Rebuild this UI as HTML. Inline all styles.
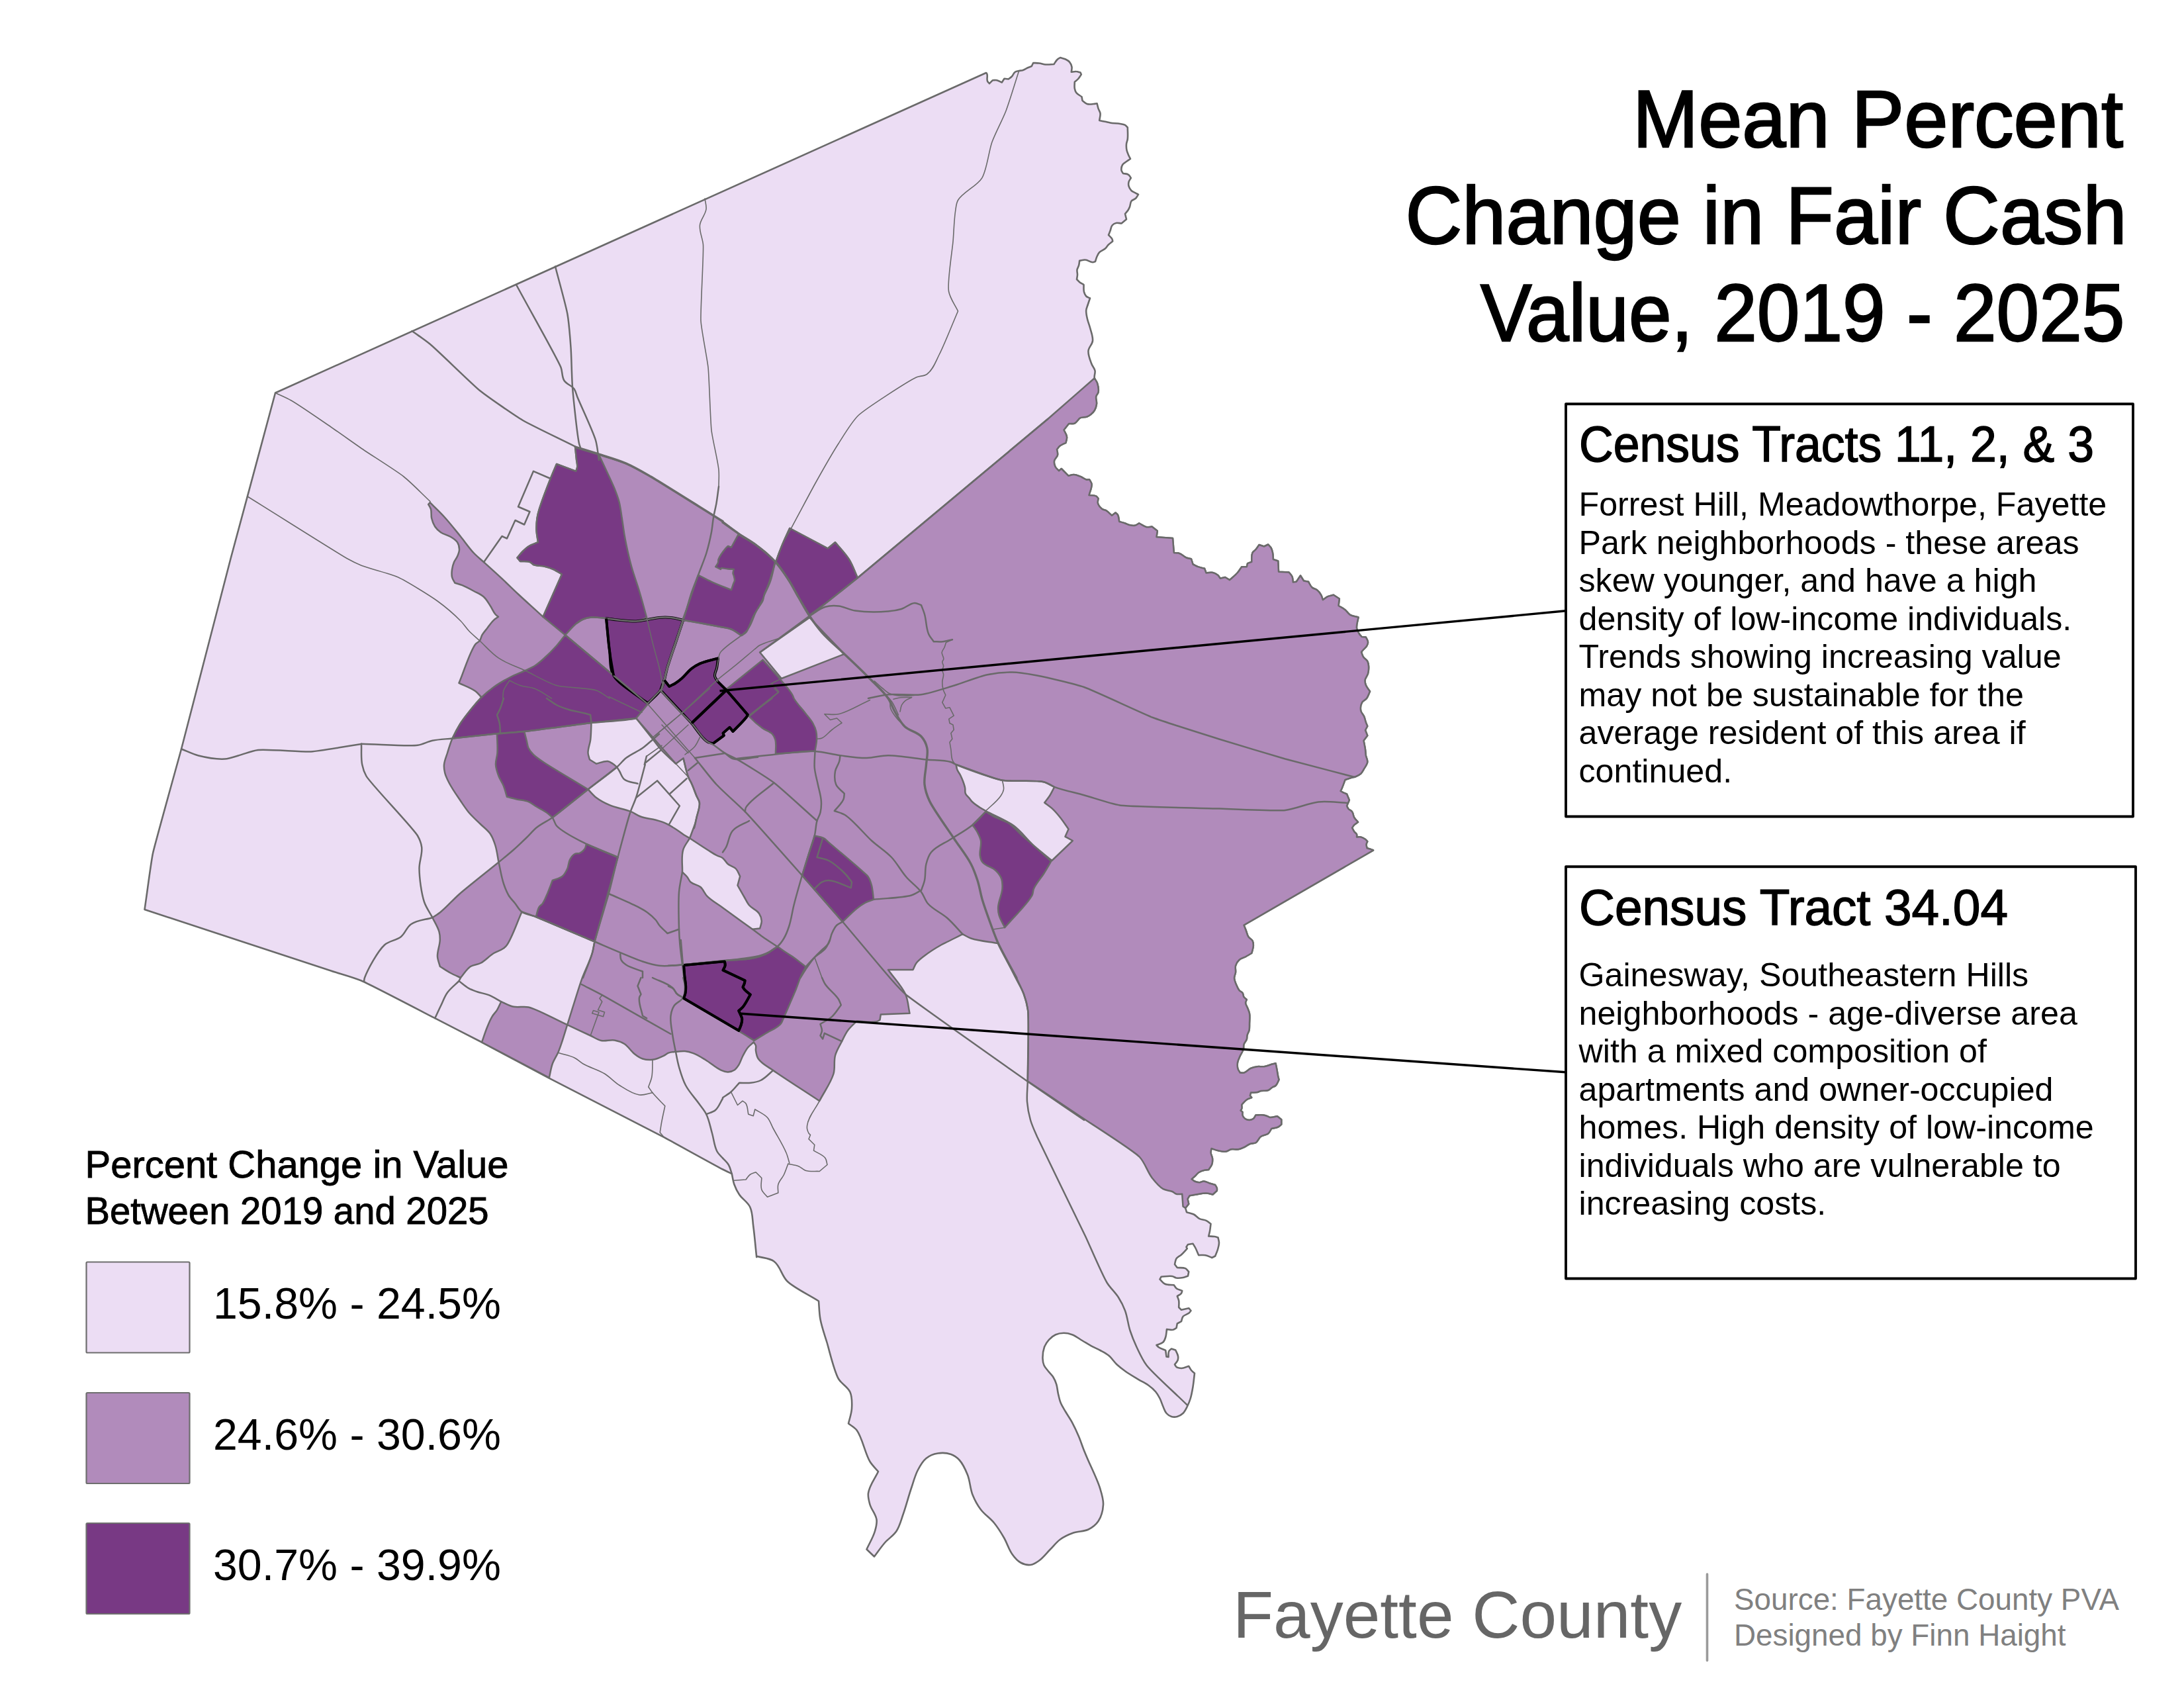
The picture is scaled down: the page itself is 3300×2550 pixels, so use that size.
<!DOCTYPE html>
<html><head><meta charset="utf-8"><title>Fayette County Map</title>
<style>
html,body{margin:0;padding:0;background:#fff;}
body{width:3300px;height:2550px;overflow:hidden;}
svg{display:block;}
text{font-family:"Liberation Sans",sans-serif;}
.din{font-family:"Liberation Sans",sans-serif;stroke:#000;stroke-width:2.4px;stroke-linejoin:miter;stroke-miterlimit:3;}
</style></head><body>
<svg width="3300" height="2550" viewBox="0 0 3300 2550">
<rect x="0" y="0" width="3300" height="2550" fill="#fff"/>
<g id="map">
<path d="M416,593.5 L1490,110 C1490.4,110.4 1491.0,110.7 1491.2,111.2 C1492.8,114.6 1490.6,119.0 1492,122.5 C1492.6,124.0 1494.0,125.0 1495,126.2 L1500,121.2 C1502.1,121.2 1504.2,120.8 1506.2,121.2 C1508.9,121.8 1511.3,123.4 1513.8,124.5 L1517.5,118.8 L1523.8,119.5 C1525.5,118.2 1527.3,117.0 1528.8,115.5 C1530.7,113.5 1531.5,110.4 1533.8,108.8 C1535.4,107.6 1537.6,107.4 1539.5,107 C1541.3,106.6 1543.2,106.7 1545,106.2 C1547.7,105.4 1550.0,103.6 1552.5,102.5 C1554.6,101.6 1556.7,100.8 1558.8,100 L1561.2,95 C1564.1,95.2 1567.1,95.1 1570,95.5 C1573.4,95.9 1576.6,97.2 1580,97.5 C1584.2,97.8 1588.3,97.2 1592.5,97 C1594.2,94.7 1595.4,92.0 1597.5,90 C1598.8,88.7 1600.5,88.0 1602,87 C1604.7,87.8 1607.5,88.3 1610,89.5 C1612.3,90.6 1614.6,91.9 1616.2,93.8 C1617.9,95.9 1619.1,98.5 1619.5,101.2 C1619.9,103.7 1619.0,106.3 1618.8,108.8 C1621.3,108.5 1623.7,107.8 1626.2,108 C1628.4,108.1 1630.4,109.0 1632.5,109.5 L1633.8,112.5 C1632.1,114.8 1630.7,117.4 1628.8,119.5 C1627.3,121.1 1625.5,122.4 1623.8,123.8 C1623.8,127.1 1623.2,130.5 1623.8,133.8 C1624.2,136.0 1624.9,138.2 1626.2,140 C1628.3,142.8 1631.7,144.1 1634.5,146.2 L1635.5,152 C1637.8,153.7 1639.8,156.1 1642.5,157 C1645.7,158.0 1649.2,157.3 1652.5,157 C1654.2,156.9 1655.8,156.5 1657.5,156.2 C1658.2,158.7 1658.7,161.3 1659.5,163.8 C1660.3,166.3 1662.1,168.6 1662.5,171.2 C1663.0,174.8 1661.6,178.4 1661.2,182 C1664.1,182.6 1667.1,183.2 1670,183.8 C1672.5,184.3 1675.0,185.1 1677.5,185.5 C1682.5,186.3 1687.5,186.2 1692.5,187 C1695.0,187.4 1697.7,187.6 1700,188.8 C1701.5,189.7 1702.5,191.3 1703.8,192.5 C1703.8,198.3 1704.5,204.2 1703.8,210 C1703.5,212.6 1702.2,214.9 1702,217.5 C1701.7,220.7 1701.9,223.9 1702.5,227 C1703.1,229.8 1704.4,232.4 1705.5,235 C1706.2,236.7 1707.2,238.3 1708,240 C1706.2,241.3 1704.3,242.5 1702.5,243.8 C1700.3,245.4 1697.6,246.5 1696.2,248.8 C1694.7,251.3 1694.0,254.6 1694.5,257.5 C1694.8,259.2 1696.2,260.5 1697,262 C1699.7,262.6 1702.7,262.3 1705,263.8 C1706.8,264.9 1707.5,267.1 1708.8,268.8 C1707.7,270.9 1706.1,272.7 1705.5,275 C1705.0,277.0 1705.0,279.2 1705.5,281.2 C1706.2,283.7 1707.6,286.1 1709.5,288 C1711.0,289.5 1713.1,290.2 1715,291.2 C1716.6,292.1 1718.3,292.9 1720,293.8 C1718.7,295.7 1717.8,297.9 1716.2,299.5 C1714.3,301.4 1711.1,301.7 1709.5,303.8 C1707.7,306.2 1708.1,309.7 1707,312.5 C1706.3,314.2 1705.5,315.9 1704.5,317.5 C1703.2,319.5 1701.5,321.2 1700,323 L1702,331.2 L1694.5,337.5 C1691.7,337.3 1688.9,336.3 1686.2,337 C1684.0,337.5 1681.9,338.8 1680.5,340.5 C1678.6,342.8 1678.6,346.1 1677.5,348.8 C1676.7,350.9 1675.8,352.9 1675,355 C1676.8,357.1 1679.3,358.7 1680.5,361.2 C1681.0,362.2 1681.0,363.4 1681.2,364.5 C1679.1,366.2 1676.9,367.6 1675,369.5 C1673.1,371.3 1671.9,373.8 1670,375.5 C1667.4,377.8 1663.6,378.7 1661.2,381.2 C1659.5,383.0 1658.5,385.3 1657.5,387.5 C1656.4,389.9 1655.8,392.5 1655,395 C1653.7,395.4 1652.5,396.2 1651.2,396.2 C1647.3,396.2 1643.9,392.8 1640,392.5 C1637.0,392.2 1634.1,393.4 1631.2,393.8 C1630.8,396.3 1630.7,398.8 1630,401.2 C1629.4,403.4 1627.9,405.3 1627.5,407.5 C1627.1,410.0 1628.1,412.5 1628,415 C1627.9,417.4 1627.3,419.7 1627,422 C1628.4,423.4 1629.6,425.0 1631.2,426.2 C1633.1,427.7 1635.4,428.7 1637.5,430 C1637.7,433.7 1637.0,437.6 1638,441.2 C1638.6,443.5 1639.5,445.8 1641.2,447.5 C1642.7,449.0 1645.1,449.5 1647,450.5 C1645.9,453.7 1644.8,456.8 1643.8,460 C1642.9,462.9 1641.4,465.8 1641.2,468.8 C1640.9,473.2 1642.0,477.7 1643,482 C1644.0,486.4 1645.9,490.6 1647,495 C1648.7,501.6 1651.7,508.2 1651,515 C1650.4,520.4 1644.9,524.6 1644.5,530 C1643.9,536.8 1647.1,543.6 1649.5,550 C1650.8,553.5 1653.8,556.3 1654.5,560 C1655.2,563.7 1653.0,567.6 1653.8,571.2 C1654.4,574.0 1657.1,576.0 1658,578.8 C1659.4,583.2 1660.4,588.0 1659.5,592.5 C1659.1,594.8 1656.7,596.5 1656.2,598.8 C1655.4,602.5 1657.4,606.3 1657,610 C1656.6,613.5 1655.6,617.0 1653.8,620 C1652.4,622.4 1650.2,624.4 1648,626.2 C1646.3,627.5 1644.5,628.8 1642.5,629.5 C1639.3,630.7 1635.5,629.7 1632.5,631.2 C1628.9,633.0 1627.5,637.9 1623.8,639.5 C1621.1,640.7 1617.9,639.8 1615,640 L1607.5,649.5 C1609.0,653.0 1611.6,656.2 1612,660 C1612.4,663.0 1611.0,665.9 1610.5,668.8 C1607.4,670.5 1603.9,671.6 1601.2,673.8 C1599.5,675.2 1598.4,677.1 1597,678.8 C1597.3,681.7 1598.6,684.6 1598,687.5 C1597.3,690.8 1593.6,692.9 1593,696.2 C1592.5,699.1 1593.2,702.3 1594.5,705 C1595.7,707.5 1598.2,709.1 1600,711.2 L1603.8,708 L1614.5,718.8 C1617.2,718.2 1619.8,716.9 1622.5,717 C1626.4,717.2 1630.2,719.0 1633.8,720.5 C1636.4,721.6 1638.5,723.8 1641.2,724.5 C1642.8,724.9 1644.5,724.5 1646.2,724.5 C1647.3,726.7 1649.2,728.7 1649.5,731.2 C1650.1,736.9 1646.8,742.4 1645.5,748 C1649.1,748.5 1653.0,747.8 1656.2,749.5 C1657.6,750.2 1658.4,751.8 1659.5,753 C1659.3,755.3 1658.2,757.7 1658.8,760 C1659.7,763.5 1662.2,766.6 1665,768.8 C1666.7,770.2 1669.3,770.1 1671.2,771.2 C1674.5,773.2 1677.1,776.3 1680,778.8 L1685.5,774.5 C1686.6,775.5 1688.0,776.2 1688.8,777.5 C1690.6,780.6 1690.4,784.5 1691.2,788 C1694.1,788.8 1697.1,789.5 1700,790.5 C1702.1,791.2 1704.0,792.5 1706.2,793 C1709.1,793.7 1712.1,794.4 1715,793.8 C1717.3,793.3 1719.1,791.6 1721.2,790.5 C1725.0,792.4 1728.4,795.4 1732.5,796.2 C1735.1,796.7 1737.8,795.7 1740.5,795.5 L1748.8,802 L1747.5,811.2 L1772,813 L1773.8,835 C1776.7,835.4 1779.7,835.2 1782.5,836.2 C1786.2,837.5 1788.9,840.9 1792.5,842.5 C1794.9,843.5 1797.5,843.8 1800,844.5 L1802.5,852.5 C1805.0,853.7 1807.4,855.2 1810,856.2 C1813.2,857.4 1816.7,857.9 1820,858.8 L1822.5,865.5 C1825.8,865.3 1829.2,864.3 1832.5,865 C1835.2,865.6 1837.8,867.0 1840,868.8 C1841.6,870.1 1842.5,872.1 1843.8,873.8 L1851.2,872 L1858,876.2 C1862.0,872.5 1866.4,869.1 1870,865 C1872.4,862.3 1874.1,859.1 1876.2,856.2 L1883.8,856.2 L1885,851.2 L1891.2,848.8 C1891.6,844.2 1890.5,839.2 1892.5,835 C1893.5,832.9 1896.0,831.8 1897.5,830 C1899.4,827.8 1900.8,825.3 1902.5,823 L1910,825.5 L1916.2,822.5 C1917.6,824.2 1919.4,825.6 1920.5,827.5 C1921.8,829.8 1922.5,832.4 1923,835 C1923.7,838.3 1923.5,841.7 1923.8,845 L1931.2,847.5 L1932,863.8 L1947.5,864.5 C1949.2,866.7 1951.4,868.6 1952.5,871.2 C1953.6,873.8 1953.4,876.7 1953.8,879.5 L1958.8,878.8 L1965,869.5 L1970,877.5 L1977,878.8 C1978.8,881.7 1979.9,885.2 1982.5,887.5 C1984.6,889.4 1987.8,889.5 1990,891.2 C1992.6,893.2 1994.6,895.9 1996.2,898.8 C1997.5,901.1 1997.9,903.7 1998.8,906.2 C2001.3,904.5 2003.5,902.4 2006.2,901.2 C2009.0,899.9 2012.1,899.6 2015,898.8 L2023.8,904.5 L2022.5,915 C2025.8,917.1 2029.4,918.8 2032.5,921.2 C2035.3,923.4 2036.9,927.0 2040,928.8 C2043.7,931.0 2048.3,931.3 2052.5,932.5 C2051.7,937.9 2049.3,943.3 2050,948.8 C2050.4,951.9 2052.1,954.8 2053.8,957.5 C2054.8,959.2 2056.3,960.5 2057.5,962 L2063.8,962.5 C2064.9,965.0 2066.9,967.3 2067,970 C2067.1,972.2 2066.1,974.3 2065,976.2 C2063.6,978.5 2061.3,980.0 2059.5,982 C2058.6,983.0 2057.8,984.0 2057,985 C2058.0,987.5 2058.5,990.2 2060,992.5 C2061.6,995.0 2064.8,996.2 2066.2,998.8 C2067.4,1001.0 2067.8,1003.7 2068,1006.2 C2068.3,1010.0 2068.0,1013.8 2067,1017.5 C2066.1,1021.0 2063.0,1023.9 2062.5,1027.5 C2062.2,1030.0 2062.9,1032.6 2063.8,1035 C2065.2,1038.5 2067.9,1041.3 2070,1044.5 C2068.3,1048.0 2067.3,1051.9 2065,1055 C2063.1,1057.5 2059.5,1058.5 2058,1061.2 C2056.0,1064.9 2055.4,1069.6 2056.2,1073.8 C2056.8,1077.1 2059.9,1079.4 2061.2,1082.5 C2062.4,1085.3 2062.8,1088.3 2063.8,1091.2 C2064.5,1093.2 2065.4,1095.1 2066.2,1097 L2063,1103 L2066.2,1111.2 L2060.5,1118.8 C2061.3,1123.4 2062.4,1127.9 2063,1132.5 C2063.4,1135.4 2063.3,1138.3 2063.8,1141.2 C2064.4,1144.6 2066.6,1147.8 2066.2,1151.2 C2065.8,1154.9 2063.1,1158.0 2061.2,1161.2 C2059.7,1163.8 2058.4,1166.7 2056.2,1168.8 C2054.1,1170.7 2051.4,1171.9 2048.8,1173 C2046.0,1174.2 2042.9,1174.6 2040,1175.5 C2037.5,1176.3 2035.0,1177.2 2032.5,1178 C2030.8,1182.4 2029.4,1186.9 2027.5,1191.2 C2026.9,1192.5 2026.2,1193.7 2025.5,1195 C2027.0,1195.8 2028.5,1196.8 2030,1197.5 C2031.6,1198.3 2033.3,1198.8 2035,1199.5 L2038.8,1208.8 L2035,1217.5 C2035.8,1219.0 2036.4,1220.7 2037.5,1222 C2039.0,1223.7 2041.6,1224.3 2043,1226.2 C2044.8,1228.7 2044.6,1232.3 2046.2,1235 C2047.7,1237.6 2050.1,1239.7 2052,1242 C2050.1,1243.4 2047.9,1244.5 2046.2,1246.2 C2044.9,1247.5 2044.1,1249.1 2043,1250.5 C2044.1,1252.4 2044.9,1254.4 2046.2,1256.2 C2047.3,1257.8 2049.3,1258.7 2050,1260.5 C2050.5,1261.7 2050.0,1263.2 2050,1264.5 C2052.1,1264.5 2054.2,1264.0 2056.2,1264.5 C2058.5,1265.0 2060.6,1266.2 2062.5,1267.5 C2063.9,1268.5 2065.0,1270.0 2066.2,1271.2 C2065.6,1272.6 2064.7,1274.0 2064.5,1275.5 C2064.3,1277.4 2065.2,1279.3 2065.5,1281.2 C2067.0,1281.6 2068.5,1282.0 2070,1282.5 C2071.7,1283.1 2073.3,1283.8 2075,1284.5 L1879.5,1397.5 C1880.5,1400.0 1881.5,1402.5 1882.5,1405 C1883.8,1408.3 1884.3,1412.0 1886.2,1415 C1887.8,1417.5 1891.1,1418.6 1892.5,1421.2 C1893.7,1423.5 1893.9,1426.2 1893.8,1428.8 C1893.7,1432.6 1892.1,1436.3 1891.2,1440 C1888.3,1441.7 1885.4,1443.4 1882.5,1445 C1879.2,1446.8 1875.3,1447.5 1872.5,1450 C1869.9,1452.3 1868.0,1455.5 1867,1458.8 C1866.1,1462.0 1867.4,1465.5 1867,1468.8 C1866.7,1471.8 1864.9,1474.5 1865,1477.5 C1865.1,1481.0 1866.7,1484.3 1868,1487.5 C1869.2,1490.5 1870.4,1493.7 1872.5,1496.2 C1873.8,1497.8 1876.3,1498.3 1877.5,1500 C1878.8,1501.8 1878.3,1504.4 1879.5,1506.2 C1880.5,1507.8 1882.4,1508.7 1883.8,1510 C1883.2,1511.7 1882.0,1513.2 1882,1515 C1882.0,1517.7 1884.1,1520.0 1885,1522.5 C1886.1,1525.4 1887.5,1528.2 1888,1531.2 C1888.8,1536.1 1888.1,1541.2 1888,1546.2 C1887.9,1549.5 1888.2,1552.9 1887.5,1556.2 C1886.9,1558.9 1885.2,1561.2 1884.5,1563.8 C1884.0,1565.8 1884.4,1568.0 1883.8,1570 C1882.9,1572.7 1880.4,1574.8 1879.5,1577.5 C1878.7,1579.9 1879.5,1582.6 1878.8,1585 C1877.8,1588.6 1875.3,1591.6 1873.8,1595 C1872.4,1598.3 1870.6,1601.5 1870,1605 C1869.5,1608.3 1869.5,1611.8 1870.5,1615 C1871.1,1617.0 1872.7,1618.7 1873.8,1620.5 C1875.9,1620.5 1878.0,1621.1 1880,1620.5 C1883.8,1619.3 1886.3,1615.4 1890,1613.8 C1893.1,1612.4 1896.6,1611.6 1900,1611.2 C1903.3,1610.8 1906.7,1611.7 1910,1611.2 C1914.3,1610.6 1918.3,1608.7 1922.5,1607.5 C1924.2,1607.0 1925.8,1606.6 1927.5,1606.2 C1928.2,1609.5 1928.9,1612.9 1929.5,1616.2 C1930.1,1619.5 1930.5,1622.9 1931.2,1626.2 C1931.6,1627.9 1932.1,1629.5 1932.5,1631.2 C1930.8,1634.1 1929.9,1637.7 1927.5,1640 C1926.1,1641.3 1924.1,1641.5 1922.5,1642.5 C1920.3,1643.8 1918.6,1646.1 1916.2,1647 C1912.7,1648.3 1908.6,1647.1 1905,1648 C1903.3,1648.4 1901.8,1649.6 1900,1650 C1896.7,1650.7 1893.3,1650.3 1890,1650.5 L1888.8,1655 L1891.2,1658 C1888.7,1659.1 1886.0,1659.7 1883.8,1661.2 C1880.8,1663.2 1878.7,1666.3 1876.2,1668.8 C1876.2,1670.9 1876.8,1673.0 1876.2,1675 C1875.9,1676.0 1875.1,1676.7 1874.5,1677.5 L1877.5,1680 C1877.5,1681.7 1877.0,1683.4 1877.5,1685 C1878.1,1687.0 1879.5,1688.8 1881.2,1690 C1883.0,1691.3 1885.3,1692.0 1887.5,1692 C1889.7,1692.0 1892.0,1691.3 1893.8,1690 C1895.6,1688.7 1896.3,1686.3 1897.5,1684.5 C1901.3,1684.5 1905.1,1684.0 1908.8,1684.5 C1910.9,1684.8 1913.0,1685.5 1915,1686.2 C1916.3,1686.7 1917.4,1687.8 1918.8,1688 C1922.5,1688.5 1926.3,1686.8 1930,1686.2 L1936.2,1691.2 L1936.2,1698.8 C1934.5,1700.0 1933.1,1701.6 1931.2,1702.5 C1928.1,1704.0 1924.5,1704.2 1921.2,1705 C1919.5,1707.5 1918.5,1710.6 1916.2,1712.5 C1913.1,1715.0 1908.2,1714.6 1905,1717 C1901.8,1719.3 1900.9,1724.1 1897.5,1726.2 C1895.0,1727.7 1891.6,1727.0 1888.8,1728 C1885.6,1729.2 1883.1,1731.6 1880,1733 C1877.2,1734.3 1874.3,1735.7 1871.2,1736.2 C1867.5,1736.8 1863.7,1735.4 1860,1736.2 C1857.3,1736.8 1855.2,1739.1 1852.5,1739.5 C1848.3,1740.1 1844.1,1738.9 1840,1738 C1836.8,1737.3 1833.7,1736.0 1830.5,1735 C1830.2,1737.1 1829.4,1739.1 1829.5,1741.2 C1829.7,1744.2 1831.7,1747.0 1832,1750 C1832.3,1752.9 1832.1,1756.0 1831.2,1758.8 C1830.2,1761.8 1827.9,1764.3 1826.2,1767 C1823.7,1767.3 1821.2,1767.3 1818.8,1768 C1816.1,1768.7 1813.5,1769.7 1811.2,1771.2 C1809.2,1772.5 1807.9,1774.6 1806.2,1776.2 C1804.4,1777.9 1802.4,1779.5 1800.5,1781.2 C1802.0,1782.3 1803.3,1783.7 1805,1784.5 C1807.3,1785.6 1809.9,1786.3 1812.5,1786.2 C1814.7,1786.2 1816.6,1784.4 1818.8,1784.5 C1821.9,1784.6 1824.6,1786.6 1827.5,1787.5 C1830.4,1788.4 1833.3,1789.2 1836.2,1790 C1837.1,1791.7 1838.4,1793.2 1838.8,1795 C1839.1,1796.2 1838.8,1797.5 1838.8,1798.8 L1832.5,1804.5 C1829.2,1803.8 1825.9,1802.6 1822.5,1802.5 C1817.5,1802.3 1812.5,1803.7 1807.5,1804.5 C1804.2,1805.0 1800.8,1805.6 1797.5,1806.2 L1794.5,1811.2 L1796.2,1818.8 L1791.2,1825 L1793,1831.2 C1796.6,1832.3 1800.5,1832.8 1803.8,1834.5 C1807.1,1836.2 1809.2,1839.6 1812.5,1841.2 C1815.6,1842.7 1819.4,1842.3 1822.5,1843.8 C1825.1,1845.0 1827.2,1847.1 1829.5,1848.8 C1829.0,1852.5 1828.7,1856.3 1828,1860 C1827.5,1862.5 1826.8,1865.0 1826.2,1867.5 C1829.1,1867.7 1832.1,1867.5 1835,1868 C1836.9,1868.3 1838.7,1869.0 1840.5,1869.5 C1841.0,1872.2 1842.0,1874.8 1842,1877.5 C1842.0,1880.9 1840.9,1884.2 1840,1887.5 C1839.0,1890.9 1837.5,1894.2 1836.2,1897.5 L1831.2,1900 C1827.9,1898.7 1824.7,1896.8 1821.2,1896.2 C1817.9,1895.6 1814.5,1896.2 1811.2,1896.2 C1809.5,1892.5 1808.1,1888.6 1806.2,1885 C1805.1,1882.9 1803.7,1880.9 1802.5,1878.8 L1795,1880 L1792.5,1883.8 L1793.8,1886.2 C1790.9,1889.3 1788.2,1892.6 1785,1895.5 C1782.7,1897.6 1779.3,1898.6 1777.5,1901.2 C1775.8,1903.7 1775.8,1907.1 1775,1910 L1778.8,1915 C1782.9,1915.4 1787.4,1914.4 1791.2,1916.2 C1793.3,1917.2 1794.5,1919.5 1796.2,1921.2 L1795,1927.5 C1792.5,1928.3 1790.1,1929.5 1787.5,1930 C1784.2,1930.6 1780.8,1931.0 1777.5,1930.5 C1775.3,1930.1 1773.4,1928.4 1771.2,1928 C1765.7,1927.1 1760.1,1928.5 1754.5,1928.8 L1752.5,1932.5 C1755.0,1934.8 1756.9,1938.1 1760,1939.5 C1764.2,1941.5 1769.2,1940.6 1773.8,1941.2 C1775.0,1942.9 1775.9,1944.9 1777.5,1946.2 C1780.0,1948.2 1783.3,1948.7 1786.2,1950 C1785.8,1951.3 1785.8,1952.7 1785,1953.8 C1783.5,1955.8 1780.9,1956.6 1778.8,1958 C1779.6,1960.3 1780.8,1962.6 1781.2,1965 C1781.7,1968.3 1781.2,1971.7 1781.2,1975 L1785,1978.8 L1796.2,1976.2 L1799.5,1980 C1798.4,1981.3 1797.5,1982.7 1796.2,1983.8 C1793.6,1985.9 1789.6,1986.2 1787.5,1988.8 C1785.8,1990.8 1785.8,1993.7 1785,1996.2 L1778.8,1999.5 L1777.5,2006.2 C1775.8,2007.1 1774.3,2008.4 1772.5,2008.8 C1769.4,2009.4 1766.2,2008.3 1763,2008 C1762.4,2012.0 1762.4,2016.1 1761.2,2020 C1760.4,2022.7 1759.5,2025.6 1757.5,2027.5 C1754.9,2030.0 1750.8,2030.5 1747.5,2032 C1748.7,2033.2 1749.8,2034.6 1751.2,2035.5 C1754.2,2037.5 1757.9,2038.5 1761.2,2040 L1762.5,2049.5 L1765.5,2050 C1765.7,2047.1 1764.9,2043.9 1766.2,2041.2 C1767.0,2039.6 1768.7,2038.7 1770,2037.5 L1776.2,2039.5 C1777.5,2042.6 1779.5,2045.5 1780,2048.8 C1780.3,2050.8 1780.2,2053.1 1779.5,2055 C1778.6,2057.4 1776.5,2059.1 1775,2061.2 C1775.8,2062.5 1776.3,2064.1 1777.5,2065 C1779.6,2066.5 1782.4,2067.0 1785,2067 C1788.9,2067.0 1792.5,2064.9 1796.2,2063.8 C1797.5,2065.9 1798.4,2068.1 1800,2070 C1801.4,2071.7 1803.3,2073.0 1805,2074.5 C1804.2,2081.3 1803.6,2088.2 1802.5,2095 C1801.5,2100.9 1800.5,2106.8 1798.8,2112.5 C1797.5,2116.8 1795.8,2121.0 1793.8,2125 C1792.0,2128.5 1790.3,2132.3 1787.5,2135 C1785.1,2137.3 1782.0,2139.1 1778.8,2140 C1776.0,2140.8 1772.8,2140.9 1770,2140 C1767.1,2139.1 1764.5,2137.3 1762.5,2135 C1760.0,2132.2 1759.0,2128.4 1757.5,2125 C1755.7,2120.9 1754.5,2116.5 1752.5,2112.5 C1750.7,2109.0 1748.7,2105.5 1746.2,2102.5 C1743.0,2098.7 1739.1,2095.4 1735,2092.5 C1730.3,2089.1 1724.9,2086.8 1720,2083.8 C1713.3,2079.7 1706.4,2075.8 1700,2071.2 C1695.7,2068.1 1691.4,2064.8 1687.5,2061.2 C1683.0,2057.0 1679.8,2051.4 1675,2047.5 C1671.2,2044.4 1666.8,2042.3 1662.5,2040 C1658.4,2037.8 1654.1,2036.0 1650,2033.8 C1644.9,2031.0 1640.0,2027.9 1635,2025 C1630.0,2022.1 1625.4,2018.2 1620,2016.2 C1616.0,2014.7 1611.7,2013.8 1607.5,2013.8 C1603.3,2013.8 1598.9,2014.5 1595,2016.2 C1591.2,2017.9 1587.8,2020.7 1585,2023.8 C1582.0,2027.1 1579.5,2030.9 1578,2035 C1576.0,2040.5 1575.3,2046.6 1575.5,2052.5 C1575.6,2055.9 1576.1,2059.4 1577.5,2062.5 C1578.9,2065.8 1581.6,2068.4 1583.8,2071.2 C1586.2,2074.2 1589.2,2076.8 1591.2,2080 C1593.4,2083.5 1595.0,2087.3 1596.2,2091.2 C1597.6,2095.7 1597.8,2100.4 1598.8,2105 C1599.9,2109.6 1600.7,2114.4 1602.5,2118.8 C1604.4,2123.6 1607.4,2128.0 1610,2132.5 C1613.2,2138.0 1617.0,2143.2 1620,2148.8 C1623.7,2155.7 1627.0,2162.8 1630,2170 C1632.8,2176.6 1634.9,2183.4 1637.5,2190 C1639.1,2194.0 1640.8,2198.0 1642.5,2202 C1647.9,2214.9 1657.9,2234.6 1662,2248 C1664.5,2256.1 1667.4,2264.5 1667,2273 C1666.6,2281.7 1664.3,2290.7 1659.5,2298 C1655.9,2303.4 1650.3,2307.6 1644.5,2310.5 C1637.6,2313.9 1629.2,2312.9 1622,2315.5 C1615.0,2318.0 1608.0,2321.1 1602,2325.5 C1596.3,2329.6 1592.0,2335.5 1587,2340.5 C1581.2,2346.3 1576.2,2353.2 1569.5,2358 C1565.7,2360.7 1561.6,2363.5 1557,2364 C1551.9,2364.6 1546.5,2363.0 1542,2360.5 C1536.8,2357.6 1532.9,2352.8 1529.5,2348 C1524.1,2340.4 1521.7,2331.1 1517,2323 C1512.5,2315.2 1507.7,2307.5 1502,2300.5 C1496.0,2293.2 1487.7,2288.0 1482,2280.5 C1476.8,2273.7 1472.7,2266.0 1469.5,2258 C1465.7,2248.4 1465.8,2237.6 1462,2228 C1458.8,2220.0 1455.3,2211.8 1449.5,2205.5 C1446.1,2201.8 1441.8,2198.7 1437,2197 C1430.7,2194.8 1423.6,2194.4 1417,2195.5 C1410.7,2196.5 1404.4,2199.0 1399.5,2203 C1393.9,2207.5 1390.3,2214.2 1387,2220.5 C1382.5,2229.1 1380.1,2238.8 1377,2248 C1372.5,2261.2 1369.2,2274.8 1364.5,2288 C1361.5,2296.5 1359.4,2305.5 1354.5,2313 C1350.0,2319.9 1342.4,2324.3 1337,2330.5 C1331.2,2337.1 1326.3,2344.5 1321,2351.5 L1309.5,2340.5 C1313.7,2331.3 1319.2,2322.7 1322,2313 C1323.7,2307.3 1325.3,2301.3 1324.5,2295.5 C1323.4,2287.4 1316.8,2280.9 1314.5,2273 C1312.9,2267.3 1311.1,2261.3 1312,2255.5 C1313.7,2243.7 1322.0,2233.8 1327,2223 C1322.8,2218.0 1317.9,2213.6 1314.5,2208 C1307.2,2196.0 1302.9,2171.7 1294.5,2160.5 C1291.3,2156.2 1286.2,2153.8 1282,2150.5 C1283.7,2143.0 1286.5,2135.7 1287,2128 C1287.5,2119.6 1287.8,2110.7 1284.5,2103 C1281.0,2094.9 1271.4,2090.7 1267,2083 C1260.1,2070.8 1253.5,2041.4 1249.5,2028 C1246.0,2016.4 1241.7,2004.9 1239.5,1993 C1237.8,1984.0 1237.8,1974.7 1237,1965.5 C1221.2,1955.5 1199.5,1945.3 1189.5,1935.5 C1180.9,1927.1 1179.2,1912.6 1169.5,1905.5 C1162.5,1900.3 1152.8,1900.5 1144.5,1898 L1143.2,1899 C1141.5,1883.3 1140.1,1865.9 1138.2,1852 C1136.9,1842.4 1137.4,1832.0 1133.2,1823.2 C1129.7,1815.7 1121.6,1811.4 1117,1804.5 C1113.9,1799.9 1111.4,1794.8 1109.5,1789.5 C1107.6,1784.3 1107.0,1778.6 1105.8,1773.2 C1101.2,1771.0 1096.5,1768.8 1092,1766.5 C1079.6,1760.1 1015.9,1724.8 1003.5,1718.2 C991.1,1711.6 840.9,1634.7 828.5,1628.2 C816.1,1621.7 740.4,1581.0 728,1574.5 C715.6,1568.0 669.7,1544.6 657.2,1538.2 C644.7,1531.8 558.9,1486.9 546,1481.5 C533.1,1476.1 513.3,1470.9 500,1466.5 C486.7,1462.1 312.3,1404.8 218.5,1374 C222.7,1345.7 228.1,1302.7 231,1289 C233.9,1275.3 270.4,1145.0 274,1131.5 C277.6,1118.0 344.9,857.5 348.5,844 C352.1,830.5 393.5,677.0 416,593.5Z" fill="#ecddf4" stroke="#6a6a6a" stroke-width="2.6" stroke-linejoin="round"/>
<path d="M1653.8,571.2 C1655.2,573.7 1657.1,576.0 1658,578.8 C1659.4,583.2 1660.4,588.0 1659.5,592.5 C1659.1,594.8 1656.7,596.5 1656.2,598.8 C1655.4,602.5 1657.4,606.3 1657,610 C1656.6,613.5 1655.6,617.0 1653.8,620 C1652.4,622.4 1650.2,624.4 1648,626.2 C1646.3,627.5 1644.5,628.8 1642.5,629.5 C1639.3,630.7 1635.5,629.7 1632.5,631.2 C1628.9,633.0 1627.5,637.9 1623.8,639.5 C1621.1,640.7 1617.9,639.8 1615,640 L1607.5,649.5 C1609.0,653.0 1611.6,656.2 1612,660 C1612.4,663.0 1611.0,665.9 1610.5,668.8 C1607.4,670.5 1603.9,671.6 1601.2,673.8 C1599.5,675.2 1598.4,677.1 1597,678.8 C1597.3,681.7 1598.6,684.6 1598,687.5 C1597.3,690.8 1593.6,692.9 1593,696.2 C1592.5,699.1 1593.2,702.3 1594.5,705 C1595.7,707.5 1598.2,709.1 1600,711.2 L1603.8,708 L1614.5,718.8 C1617.2,718.2 1619.8,716.9 1622.5,717 C1626.4,717.2 1630.2,719.0 1633.8,720.5 C1636.4,721.6 1638.5,723.8 1641.2,724.5 C1642.8,724.9 1644.5,724.5 1646.2,724.5 C1647.3,726.7 1649.2,728.7 1649.5,731.2 C1650.1,736.9 1646.8,742.4 1645.5,748 C1649.1,748.5 1653.0,747.8 1656.2,749.5 C1657.6,750.2 1658.4,751.8 1659.5,753 C1659.3,755.3 1658.2,757.7 1658.8,760 C1659.7,763.5 1662.2,766.6 1665,768.8 C1666.7,770.2 1669.3,770.1 1671.2,771.2 C1674.5,773.2 1677.1,776.3 1680,778.8 L1685.5,774.5 C1686.6,775.5 1688.0,776.2 1688.8,777.5 C1690.6,780.6 1690.4,784.5 1691.2,788 C1694.1,788.8 1697.1,789.5 1700,790.5 C1702.1,791.2 1704.0,792.5 1706.2,793 C1709.1,793.7 1712.1,794.4 1715,793.8 C1717.3,793.3 1719.1,791.6 1721.2,790.5 C1725.0,792.4 1728.4,795.4 1732.5,796.2 C1735.1,796.7 1737.8,795.7 1740.5,795.5 L1748.8,802 L1747.5,811.2 L1772,813 L1773.8,835 C1776.7,835.4 1779.7,835.2 1782.5,836.2 C1786.2,837.5 1788.9,840.9 1792.5,842.5 C1794.9,843.5 1797.5,843.8 1800,844.5 L1802.5,852.5 C1805.0,853.7 1807.4,855.2 1810,856.2 C1813.2,857.4 1816.7,857.9 1820,858.8 L1822.5,865.5 C1825.8,865.3 1829.2,864.3 1832.5,865 C1835.2,865.6 1837.8,867.0 1840,868.8 C1841.6,870.1 1842.5,872.1 1843.8,873.8 L1851.2,872 L1858,876.2 C1862.0,872.5 1866.4,869.1 1870,865 C1872.4,862.3 1874.1,859.1 1876.2,856.2 L1883.8,856.2 L1885,851.2 L1891.2,848.8 C1891.6,844.2 1890.5,839.2 1892.5,835 C1893.5,832.9 1896.0,831.8 1897.5,830 C1899.4,827.8 1900.8,825.3 1902.5,823 L1910,825.5 L1916.2,822.5 C1917.6,824.2 1919.4,825.6 1920.5,827.5 C1921.8,829.8 1922.5,832.4 1923,835 C1923.7,838.3 1923.5,841.7 1923.8,845 L1931.2,847.5 L1932,863.8 L1947.5,864.5 C1949.2,866.7 1951.4,868.6 1952.5,871.2 C1953.6,873.8 1953.4,876.7 1953.8,879.5 L1958.8,878.8 L1965,869.5 L1970,877.5 L1977,878.8 C1978.8,881.7 1979.9,885.2 1982.5,887.5 C1984.6,889.4 1987.8,889.5 1990,891.2 C1992.6,893.2 1994.6,895.9 1996.2,898.8 C1997.5,901.1 1997.9,903.7 1998.8,906.2 C2001.3,904.5 2003.5,902.4 2006.2,901.2 C2009.0,899.9 2012.1,899.6 2015,898.8 L2023.8,904.5 L2022.5,915 C2025.8,917.1 2029.4,918.8 2032.5,921.2 C2035.3,923.4 2036.9,927.0 2040,928.8 C2043.7,931.0 2048.3,931.3 2052.5,932.5 C2051.7,937.9 2049.3,943.3 2050,948.8 C2050.4,951.9 2052.1,954.8 2053.8,957.5 C2054.8,959.2 2056.3,960.5 2057.5,962 L2063.8,962.5 C2064.9,965.0 2066.9,967.3 2067,970 C2067.1,972.2 2066.1,974.3 2065,976.2 C2063.6,978.5 2061.3,980.0 2059.5,982 C2058.6,983.0 2057.8,984.0 2057,985 C2058.0,987.5 2058.5,990.2 2060,992.5 C2061.6,995.0 2064.8,996.2 2066.2,998.8 C2067.4,1001.0 2067.8,1003.7 2068,1006.2 C2068.3,1010.0 2068.0,1013.8 2067,1017.5 C2066.1,1021.0 2063.0,1023.9 2062.5,1027.5 C2062.2,1030.0 2062.9,1032.6 2063.8,1035 C2065.2,1038.5 2067.9,1041.3 2070,1044.5 C2068.3,1048.0 2067.3,1051.9 2065,1055 C2063.1,1057.5 2059.5,1058.5 2058,1061.2 C2056.0,1064.9 2055.4,1069.6 2056.2,1073.8 C2056.8,1077.1 2059.9,1079.4 2061.2,1082.5 C2062.4,1085.3 2062.8,1088.3 2063.8,1091.2 C2064.5,1093.2 2065.4,1095.1 2066.2,1097 L2063,1103 L2066.2,1111.2 L2060.5,1118.8 C2061.3,1123.4 2062.4,1127.9 2063,1132.5 C2063.4,1135.4 2063.3,1138.3 2063.8,1141.2 C2064.4,1144.6 2066.6,1147.8 2066.2,1151.2 C2065.8,1154.9 2063.1,1158.0 2061.2,1161.2 C2059.7,1163.8 2058.4,1166.7 2056.2,1168.8 C2054.1,1170.7 2051.4,1171.9 2048.8,1173 C2046.0,1174.2 2042.9,1174.6 2040,1175.5 C2037.5,1176.3 2035.0,1177.2 2032.5,1178 C2030.8,1182.4 2029.4,1186.9 2027.5,1191.2 C2026.9,1192.5 2026.2,1193.7 2025.5,1195 C2027.0,1195.8 2028.5,1196.8 2030,1197.5 C2031.6,1198.3 2033.3,1198.8 2035,1199.5 L2038.8,1208.8 L2035,1217.5 C2035.8,1219.0 2036.4,1220.7 2037.5,1222 C2039.0,1223.7 2041.6,1224.3 2043,1226.2 C2044.8,1228.7 2044.6,1232.3 2046.2,1235 C2047.7,1237.6 2050.1,1239.7 2052,1242 C2050.1,1243.4 2047.9,1244.5 2046.2,1246.2 C2044.9,1247.5 2044.1,1249.1 2043,1250.5 C2044.1,1252.4 2044.9,1254.4 2046.2,1256.2 C2047.3,1257.8 2049.3,1258.7 2050,1260.5 C2050.5,1261.7 2050.0,1263.2 2050,1264.5 C2052.1,1264.5 2054.2,1264.0 2056.2,1264.5 C2058.5,1265.0 2060.6,1266.2 2062.5,1267.5 C2063.9,1268.5 2065.0,1270.0 2066.2,1271.2 C2065.6,1272.6 2064.7,1274.0 2064.5,1275.5 C2064.3,1277.4 2065.2,1279.3 2065.5,1281.2 C2067.0,1281.6 2068.5,1282.0 2070,1282.5 C2071.7,1283.1 2073.3,1283.8 2075,1284.5 L1879.5,1397.5 C1880.5,1400.0 1881.5,1402.5 1882.5,1405 C1883.8,1408.3 1884.3,1412.0 1886.2,1415 C1887.8,1417.5 1891.1,1418.6 1892.5,1421.2 C1893.7,1423.5 1893.9,1426.2 1893.8,1428.8 C1893.7,1432.6 1892.1,1436.3 1891.2,1440 C1888.3,1441.7 1885.4,1443.4 1882.5,1445 C1879.2,1446.8 1875.3,1447.5 1872.5,1450 C1869.9,1452.3 1868.0,1455.5 1867,1458.8 C1866.1,1462.0 1867.4,1465.5 1867,1468.8 C1866.7,1471.8 1864.9,1474.5 1865,1477.5 C1865.1,1481.0 1866.7,1484.3 1868,1487.5 C1869.2,1490.5 1870.4,1493.7 1872.5,1496.2 C1873.8,1497.8 1876.3,1498.3 1877.5,1500 C1878.8,1501.8 1878.3,1504.4 1879.5,1506.2 C1880.5,1507.8 1882.4,1508.7 1883.8,1510 C1883.2,1511.7 1882.0,1513.2 1882,1515 C1882.0,1517.7 1884.1,1520.0 1885,1522.5 C1886.1,1525.4 1887.5,1528.2 1888,1531.2 C1888.8,1536.1 1888.1,1541.2 1888,1546.2 C1887.9,1549.5 1888.2,1552.9 1887.5,1556.2 C1886.9,1558.9 1885.2,1561.2 1884.5,1563.8 C1884.0,1565.8 1884.4,1568.0 1883.8,1570 C1882.9,1572.7 1880.4,1574.8 1879.5,1577.5 C1878.7,1579.9 1879.5,1582.6 1878.8,1585 C1877.8,1588.6 1875.3,1591.6 1873.8,1595 C1872.4,1598.3 1870.6,1601.5 1870,1605 C1869.5,1608.3 1869.5,1611.8 1870.5,1615 C1871.1,1617.0 1872.7,1618.7 1873.8,1620.5 C1875.9,1620.5 1878.0,1621.1 1880,1620.5 C1883.8,1619.3 1886.3,1615.4 1890,1613.8 C1893.1,1612.4 1896.6,1611.6 1900,1611.2 C1903.3,1610.8 1906.7,1611.7 1910,1611.2 C1914.3,1610.6 1918.3,1608.7 1922.5,1607.5 C1924.2,1607.0 1925.8,1606.6 1927.5,1606.2 C1928.2,1609.5 1928.9,1612.9 1929.5,1616.2 C1930.1,1619.5 1930.5,1622.9 1931.2,1626.2 C1931.6,1627.9 1932.1,1629.5 1932.5,1631.2 C1930.8,1634.1 1929.9,1637.7 1927.5,1640 C1926.1,1641.3 1924.1,1641.5 1922.5,1642.5 C1920.3,1643.8 1918.6,1646.1 1916.2,1647 C1912.7,1648.3 1908.6,1647.1 1905,1648 C1903.3,1648.4 1901.8,1649.6 1900,1650 C1896.7,1650.7 1893.3,1650.3 1890,1650.5 L1888.8,1655 L1891.2,1658 C1888.7,1659.1 1886.0,1659.7 1883.8,1661.2 C1880.8,1663.2 1878.7,1666.3 1876.2,1668.8 C1876.2,1670.9 1876.8,1673.0 1876.2,1675 C1875.9,1676.0 1875.1,1676.7 1874.5,1677.5 L1877.5,1680 C1877.5,1681.7 1877.0,1683.4 1877.5,1685 C1878.1,1687.0 1879.5,1688.8 1881.2,1690 C1883.0,1691.3 1885.3,1692.0 1887.5,1692 C1889.7,1692.0 1892.0,1691.3 1893.8,1690 C1895.6,1688.7 1896.3,1686.3 1897.5,1684.5 C1901.3,1684.5 1905.1,1684.0 1908.8,1684.5 C1910.9,1684.8 1913.0,1685.5 1915,1686.2 C1916.3,1686.7 1917.4,1687.8 1918.8,1688 C1922.5,1688.5 1926.3,1686.8 1930,1686.2 L1936.2,1691.2 L1936.2,1698.8 C1934.5,1700.0 1933.1,1701.6 1931.2,1702.5 C1928.1,1704.0 1924.5,1704.2 1921.2,1705 C1919.5,1707.5 1918.5,1710.6 1916.2,1712.5 C1913.1,1715.0 1908.2,1714.6 1905,1717 C1901.8,1719.3 1900.9,1724.1 1897.5,1726.2 C1895.0,1727.7 1891.6,1727.0 1888.8,1728 C1885.6,1729.2 1883.1,1731.6 1880,1733 C1877.2,1734.3 1874.3,1735.7 1871.2,1736.2 C1867.5,1736.8 1863.7,1735.4 1860,1736.2 C1857.3,1736.8 1855.2,1739.1 1852.5,1739.5 C1848.3,1740.1 1844.1,1738.9 1840,1738 C1836.8,1737.3 1833.7,1736.0 1830.5,1735 C1830.2,1737.1 1829.4,1739.1 1829.5,1741.2 C1829.7,1744.2 1831.7,1747.0 1832,1750 C1832.3,1752.9 1832.1,1756.0 1831.2,1758.8 C1830.2,1761.8 1827.9,1764.3 1826.2,1767 C1823.7,1767.3 1821.2,1767.3 1818.8,1768 C1816.1,1768.7 1813.5,1769.7 1811.2,1771.2 C1809.2,1772.5 1807.9,1774.6 1806.2,1776.2 C1804.4,1777.9 1802.4,1779.5 1800.5,1781.2 C1802.0,1782.3 1803.3,1783.7 1805,1784.5 C1807.3,1785.6 1809.9,1786.3 1812.5,1786.2 C1814.7,1786.2 1816.6,1784.4 1818.8,1784.5 C1821.9,1784.6 1824.6,1786.6 1827.5,1787.5 C1830.4,1788.4 1833.3,1789.2 1836.2,1790 C1837.1,1791.7 1838.4,1793.2 1838.8,1795 C1839.1,1796.2 1838.8,1797.5 1838.8,1798.8 L1832.5,1804.5 C1829.2,1803.8 1825.9,1802.6 1822.5,1802.5 C1817.5,1802.3 1812.5,1803.7 1807.5,1804.5 C1804.2,1805.0 1800.8,1805.6 1797.5,1806.2 L1794.5,1811.2 L1796.2,1818.8 L1791.2,1825 L1787.5,1822.5 L1786.2,1803.8 C1783.3,1803.8 1780.3,1804.6 1777.5,1803.8 C1775.1,1803.1 1773.5,1801.0 1771.2,1800 C1766.8,1798.1 1761.6,1798.6 1757.5,1796.2 C1750.9,1792.4 1745.9,1786.0 1741.2,1780 C1733.5,1770.2 1730.5,1757.1 1722,1748 C1712.4,1737.8 1646.1,1695.9 1634.5,1688 C1622.9,1680.1 1580.0,1651.5 1552.8,1633.2 C1552.9,1597.8 1554.9,1540.9 1553.2,1527 C1552.2,1518.5 1550.0,1510.1 1547,1502 C1543.8,1493.3 1538.7,1485.3 1534.5,1477 C1528.2,1464.5 1517.0,1442.3 1508.2,1425 C1494.5,1422.5 1480.2,1421.9 1467,1417.5 C1462.6,1416.0 1458.7,1413.3 1454.5,1411.2 C1450.3,1413.3 1446.2,1415.4 1442,1417.5 C1438.7,1419.2 1435.3,1420.8 1432,1422.5 C1428.7,1424.2 1425.2,1425.6 1422,1427.5 C1413.4,1432.4 1404.9,1437.7 1397,1443.8 C1392.6,1447.2 1387.9,1450.6 1384.5,1455 C1382.2,1458.0 1381.2,1461.7 1379.5,1465 L1342,1465 C1350.7,1477.3 1362.5,1489.2 1368.2,1502 C1372.2,1511.0 1372.4,1521.2 1374.5,1530.8 L1330.8,1532.5 L1329.5,1540.8 C1327.8,1541.6 1326.3,1542.8 1324.5,1543.2 C1314.7,1545.3 1304.5,1542.7 1294.5,1542.5 C1289.9,1547.3 1284.7,1551.6 1280.8,1557 C1277.2,1562.0 1274.8,1567.7 1272,1573.2 C1268.5,1580.2 1264.1,1586.9 1262,1594.5 C1259.6,1603.4 1262.1,1613.2 1259.5,1622 C1255.6,1635.4 1245.3,1649.5 1238.2,1663.2 C1214.9,1647.8 1179.6,1625.2 1168.2,1617 C1160.5,1611.5 1151.2,1607.3 1145.8,1599.5 C1143.3,1595.9 1142.6,1591.3 1142,1587 C1141.6,1584.5 1142.7,1581.9 1142,1579.5 C1141.4,1577.6 1139.9,1576.1 1138.8,1574.4 C1135.9,1577.1 1132.5,1579.4 1130,1582.5 C1126.9,1586.3 1124.8,1590.7 1122.5,1595 C1120.1,1599.5 1118.9,1604.5 1116.2,1608.8 C1114.5,1611.5 1112.7,1614.4 1110,1616.2 C1107.1,1618.2 1103.5,1619.3 1100,1619.4 C1096.6,1619.5 1093.1,1618.3 1090,1616.9 C1081.3,1613.1 1074.4,1606.1 1066.2,1601.2 C1060.1,1597.6 1054.1,1593.7 1047.5,1591.2 C1043.5,1589.7 1039.3,1588.5 1035,1588.1 C1030.4,1587.7 1025.8,1588.3 1021.2,1588.8 C1017.4,1589.2 1013.6,1589.3 1010,1590.6 C1007.6,1591.5 1005.8,1593.4 1003.5,1594.5 C997.9,1597.2 992.1,1600.0 986,1600.8 C981.0,1601.4 975.8,1601.0 971,1599.5 C966.4,1598.0 962.3,1595.0 958.5,1592 C952.9,1587.6 949.5,1580.8 943.5,1577 C939.0,1574.1 933.8,1572.4 928.5,1571.5 C921.9,1570.4 915.0,1573.3 908.5,1572 C902.6,1570.8 897.6,1567.0 892.2,1564.5 C880.5,1559.1 868.9,1553.6 857.2,1548.2 C864.3,1525.7 873.8,1494.0 878.5,1480.8 C883.2,1467.6 890.7,1453.4 894.8,1440 C896.5,1434.3 897.3,1428.3 898.5,1422.5 C868.9,1410.0 822.9,1390.1 809.8,1385 C802.8,1382.3 795.6,1380.0 788.5,1377.5 C781.0,1394.2 774.0,1416.0 766,1427.5 C764.7,1429.4 762.9,1431.1 761,1432.5 C756.5,1435.8 750.8,1437.1 746,1440 C738.9,1444.4 733.4,1451.1 726,1455 C721.3,1457.4 715.4,1457.1 711,1460 C704.7,1464.2 701.0,1471.3 696,1477 C691.0,1474.7 685.9,1472.6 681,1470 C675.4,1467.0 670.2,1463.3 664.8,1460 C663.5,1455.0 661.3,1450.2 661,1445 C660.6,1436.6 664.6,1428.4 664.8,1420 C664.9,1415.8 664.6,1411.5 663.5,1407.5 C661.4,1399.9 656.8,1393.3 653.5,1386.2 C657.7,1383.3 662.1,1380.7 666,1377.5 C675.8,1369.5 684.0,1359.6 693.5,1351.2 C704.0,1341.9 733.5,1318.7 753.5,1302.5 C751.8,1294.2 751.0,1285.6 748.5,1277.5 C746.6,1271.4 744.6,1265.3 741,1260 C737.0,1254.1 731.0,1250.0 726,1245 C720.2,1239.2 713.8,1233.8 708.5,1227.5 C703.9,1222.0 700.0,1215.9 696,1210 C689.9,1201.0 683.5,1192.1 678.5,1182.5 C676.0,1177.7 673.5,1172.8 672.2,1167.5 C671.2,1163.4 670.6,1159.2 671,1155 C671.6,1149.0 674.2,1143.3 676,1137.5 C678.3,1130.1 680.4,1122.6 683.5,1115.5 C687.0,1107.5 691.3,1099.8 696,1092.5 C700.5,1085.5 705.8,1079.0 711,1072.5 C715.8,1066.5 721.5,1061.2 726,1055 C726.5,1054.4 726.8,1053.7 727.2,1053 C724.3,1050.1 721.8,1046.6 718.5,1044.2 C711.0,1038.8 701.8,1035.9 693.5,1031.8 C701.8,1012.2 710.0,984.1 718.5,973 C720.1,970.9 723.2,970.1 724.8,968 C726.7,965.5 726.9,962.0 728.5,959.2 C730.6,955.6 733.4,952.5 736,949.2 C739.3,945.0 742.1,940.4 746,936.8 C748.1,934.8 750.7,933.5 753,931.8 C751.5,930.5 749.8,929.5 748.5,928 C745.4,924.3 743.7,919.5 741,915.5 C737.9,910.8 735.2,905.6 731,901.8 C726.7,897.9 721.1,895.8 716,893 C710.3,889.9 704.5,886.7 698.5,884.2 C694.8,882.7 691.0,881.7 687.2,880.5 C685.8,877.6 683.7,874.9 683,871.8 C682.2,868.1 682.5,864.2 683,860.5 C683.5,856.6 684.5,852.8 686,849.2 C687.3,846.1 689.7,843.6 691,840.5 C692.4,837.3 693.9,834.0 694,830.5 C694.1,826.6 693.1,822.5 691,819.2 C688.7,815.6 684.7,813.3 681,811 C676.3,808.1 670.5,807.3 666,804.2 C662.6,801.9 659.5,798.9 657.2,795.5 C654.7,791.8 653.2,787.4 652.2,783 C651.1,778.5 652.3,773.6 651,769.2 C650.2,766.5 648.5,764.3 647.2,761.8 L649.8,759.2 C656.9,766.3 664.3,773.1 671,780.5 C679.8,790.1 687.8,800.4 696,810.5 C702.7,818.8 708.7,827.7 716,835.5 C720.6,840.4 726.0,844.6 731,849.2 C740.2,857.5 749.4,865.8 758.5,874.2 C766.9,882.0 775.1,890.2 783.5,898 C793.7,907.5 808.2,920.5 820.5,931.8 L849,867.5 C844.7,865.0 840.6,862.0 836,860 C831.6,858.0 826.9,856.6 822.2,855.5 C816.9,854.2 811.0,855.1 806,853 C804.1,852.2 803.0,849.9 801,849.2 C796.3,847.4 791.0,848.4 786,848 L781.5,842.5 C784.3,839.3 786.8,836.0 789.8,833 C792.5,830.3 795.3,827.5 798.5,825.5 C803.0,822.7 808.2,821.3 813,819.2 C812.2,813.0 810.7,806.8 810.5,800.5 C810.3,794.7 810.7,788.8 811.5,783 C812.2,778.3 813.4,773.7 814.8,769.2 C818.9,755.8 826.7,736.0 831.8,723 C834.7,715.6 837.9,708.3 841,701 L870.2,711.8 C870.9,709.7 872.0,707.7 872.2,705.5 C872.6,701.7 871.4,698.0 871,694.2 C870.4,688.1 869.8,682.1 869.2,676 C881.1,679.6 893.0,683.0 904.8,686.8 C918.1,691.0 933.1,695.0 946,700.5 C958.9,706.0 971.4,713.5 983.5,720.5 C995.6,727.5 1080.5,780.1 1092,788 C1100.6,793.9 1108.5,800.8 1117,806.8 C1125.1,812.5 1134.1,817.0 1142,823 C1152.6,831.0 1162.0,840.5 1172,849.2 C1175.3,840.5 1178.4,831.6 1182,823 C1185.5,814.6 1189.5,806.3 1193.2,798 L1250.8,828.5 L1262,819.2 C1269.1,828.0 1277.3,835.9 1283.2,845.5 C1288.5,854.1 1291.6,863.8 1295.8,873 C1391.6,793.0 1572.6,642.1 1583.2,633 C1593.8,623.9 1630.3,591.8 1653.8,571.2Z" fill="#b18bbb" stroke="#6a6a6a" stroke-width="2.5" stroke-linejoin="round"/>
<path d="M757.2,1513.2 C763.5,1515.7 769.4,1519.4 776,1520.8 C783.3,1522.3 791.2,1519.8 798.5,1521.5 C812.1,1524.7 837.6,1539.3 857.2,1548.2 C854.7,1556.1 852.4,1564.1 849.8,1572 C847.8,1577.9 845.9,1583.8 843.5,1589.5 C840.9,1595.5 837.0,1600.9 834.8,1607 C832.3,1613.8 831.5,1621.1 829.8,1628.2 L728,1574.5 C730.7,1567.0 733.0,1559.4 736,1552 C738.2,1546.5 740.4,1540.9 743.5,1535.8 C745.6,1532.2 748.8,1529.4 751,1525.8 C753.4,1521.8 755.1,1517.4 757.2,1513.2Z" fill="#b18bbb" stroke="#6a6a6a" stroke-width="2.5" stroke-linejoin="round"/>
<path d="M869.2,676 L904.8,686.8 C908.5,694.7 912.3,702.6 916,710.5 C920.2,719.6 924.7,728.7 928.5,738 C931.1,744.6 933.7,751.2 935.5,758 C937.6,766.2 938.5,774.7 939.8,783 C941.1,791.3 942.1,799.7 943.5,808 C945.0,816.4 946.6,824.7 948.5,833 C950.4,841.4 952.4,849.7 954.8,858 C958.2,869.8 962.5,881.3 966,893 C970.0,906.3 973.5,919.7 977.2,933 C971.8,934.8 966.7,937.8 961,938.5 C952.7,939.6 944.3,937.6 936,936.8 C929.3,936.1 922.7,934.9 916,934.2 C908.5,933.4 901.0,931.9 893.5,932.5 C889.2,932.8 884.9,933.8 881,935.5 C877.4,937.0 874.1,939.3 871,941.8 C864.7,946.9 859.7,953.4 854,959.2 L820.5,931.8 L849,867.5 C844.7,865.0 840.6,862.0 836,860 C831.6,858.0 826.9,856.6 822.2,855.5 C816.9,854.2 811.0,855.1 806,853 C804.1,852.2 803.0,849.9 801,849.2 C796.3,847.4 791.0,848.4 786,848 L781.5,842.5 C784.3,839.3 786.8,836.0 789.8,833 C792.5,830.3 795.3,827.5 798.5,825.5 C803.0,822.7 808.2,821.3 813,819.2 C812.2,813.0 810.7,806.8 810.5,800.5 C810.3,794.7 810.7,788.8 811.5,783 C812.2,778.3 813.4,773.7 814.8,769.2 C818.9,755.8 826.7,736.0 831.8,723 C834.7,715.6 837.9,708.3 841,701 L870.2,711.8 C870.9,709.7 872.0,707.7 872.2,705.5 C872.6,701.7 871.4,698.0 871,694.2 C870.4,688.1 869.8,682.1 869.2,676Z" fill="#783984" stroke="#6a6a6a" stroke-width="2.5" stroke-linejoin="round"/>
<path d="M916,934.2 C922.7,935.1 929.3,936.1 936,936.8 C944.3,937.6 952.7,938.8 961,938.5 C967.7,938.2 974.3,936.6 981,935.5 C986.0,934.7 990.9,933.4 996,933 C1001.8,932.5 1007.7,932.4 1013.5,933 C1019.8,933.6 1026.0,935.5 1032.2,936.8 C1028.5,948.0 1024.7,959.3 1021,970.5 C1016.8,983.0 1012.2,995.4 1008.5,1008 C1006.1,1016.2 1005.0,1024.9 1002.2,1033 C1001.1,1036.3 1000.0,1039.6 998.1,1042.5 C993.0,1050.2 985.2,1055.8 978.8,1062.5 C975.4,1060.0 971.8,1057.6 968.5,1055 C957.5,1046.4 934.1,1032.7 927.2,1020.5 C920.9,1009.5 922.7,995.6 921,983 C919.1,969.1 917.7,950.5 916,934.2Z" fill="#783984" stroke="#6a6a6a" stroke-width="2.5" stroke-linejoin="round"/>
<path d="M854,959.2 C878.4,979.6 916.5,1011.5 927.2,1020.5 C937.9,1029.5 957.8,1046.0 968.5,1055 C971.9,1057.9 975.4,1060.9 978.8,1063.8 L961.2,1085 C938.6,1087.3 907.4,1090.4 893.5,1092 C879.6,1093.6 806.1,1103.6 792.2,1105 C779.3,1106.3 766.4,1106.8 753.5,1108 C739.6,1109.3 706.8,1113.0 683.5,1115.5 C687.7,1107.8 691.3,1099.8 696,1092.5 C700.5,1085.5 705.8,1079.0 711,1072.5 C715.8,1066.5 720.6,1060.4 726,1055 C732.2,1048.8 738.9,1043.1 746,1038 C753.9,1032.3 762.4,1027.5 771,1023 C778.3,1019.2 786.1,1016.5 793.5,1013 C798.6,1010.6 803.8,1008.5 808.5,1005.5 C813.0,1002.6 817.0,999.1 821,995.5 C828.0,989.2 834.7,982.5 841,975.5 C845.6,970.3 849.7,964.6 854,959.2Z" fill="#783984" stroke="#6a6a6a" stroke-width="2.5" stroke-linejoin="round"/>
<path d="M998.1,1042.5 C999.6,1038.3 1000.7,1034.1 1002.5,1030 C1002.9,1029.1 1003.4,1028.3 1003.8,1027.5 L1011.2,1036.9 C1014.1,1035.4 1017.2,1034.2 1020,1032.5 C1023.5,1030.3 1026.9,1027.7 1030,1025 C1035.3,1020.4 1039.4,1014.4 1045,1010 C1048.8,1007.0 1053.1,1004.5 1057.5,1002.5 C1066.3,998.7 1075.8,997.1 1085,994.4 C1084.4,999.2 1084.0,1004.0 1083.1,1008.8 C1082.3,1013.0 1079.5,1017.0 1080,1021.2 C1080.2,1023.5 1081.9,1025.5 1083.1,1027.5 C1083.7,1028.4 1084.3,1029.2 1085,1030 C1088.8,1034.1 1093.3,1037.5 1097.5,1041.2 L1152.5,996.9 C1161.7,1007.1 1171.2,1017.0 1180,1027.5 C1186.1,1034.8 1192.8,1041.8 1197.5,1050 C1198.4,1051.6 1198.6,1053.4 1199.5,1055 C1204.2,1063.2 1211.2,1069.9 1217,1077.5 C1220.8,1082.5 1225.1,1087.1 1228.2,1092.5 C1230.4,1096.4 1232.2,1100.6 1233.2,1105 C1234.1,1109.1 1234.2,1113.3 1234,1117.5 C1233.8,1123.2 1232.3,1128.8 1231.5,1134.5 L1172,1138.8 C1171.8,1131.7 1173.3,1124.4 1171.5,1117.5 C1170.7,1114.3 1169.2,1111.2 1167,1108.8 C1163.0,1104.6 1156.7,1103.4 1152,1100 C1144.8,1094.8 1138.1,1088.9 1132,1082.5 C1131.3,1081.7 1130.7,1080.8 1130,1080 C1128.7,1081.7 1127.6,1083.4 1126.2,1085 C1120.4,1091.7 1113.7,1097.5 1107.5,1103.8 L1102.5,1098.8 L1091.2,1108.1 L1093.8,1111.2 L1077.5,1123.1 C1075.0,1122.5 1072.3,1122.3 1070,1121.2 C1068.1,1120.3 1066.5,1118.9 1065,1117.5 C1057.3,1110.1 1052.1,1100.5 1045,1092.5 C1040.3,1087.2 1034.9,1082.6 1030,1077.5 C1020.3,1067.4 1008.3,1054.2 997.5,1042.5 L998.1,1042.5Z" fill="#783984" stroke="#6a6a6a" stroke-width="2.5" stroke-linejoin="round"/>
<path d="M1115.6,807.5 C1122.9,811.7 1130.5,815.4 1137.5,820 C1144.0,824.2 1150.3,828.7 1156.2,833.8 C1161.6,838.4 1166.2,843.8 1171.2,848.8 C1170.0,853.4 1168.8,858.0 1167.5,862.5 C1165.5,869.2 1163.6,875.9 1161.2,882.5 C1159.4,887.6 1156.7,892.4 1155,897.5 C1153.9,900.8 1153.8,904.3 1152.5,907.5 C1151.0,911.1 1148.2,914.1 1146.2,917.5 C1143.2,922.4 1140.0,927.3 1137.5,932.5 C1135.5,936.5 1134.3,940.9 1132.5,945 C1131.0,948.4 1129.9,952.2 1127.5,955 C1125.7,957.2 1122.9,958.3 1120.6,960 C1115.8,957.1 1111.4,953.3 1106.2,951.2 C1100.3,948.8 1093.8,948.2 1087.5,946.9 C1079.2,945.1 1070.9,943.4 1062.5,941.9 C1052.5,940.1 1042.5,938.6 1032.5,936.9 C1034.2,931.3 1035.8,925.6 1037.5,920 C1040.0,911.7 1042.2,903.2 1045,895 C1048.0,886.2 1051.7,877.5 1055,868.8 C1061.7,872.1 1068.2,875.7 1075,878.8 C1084.8,883.3 1095.0,887.1 1105,891.2 C1106.3,887.5 1107.3,883.7 1108.8,880 C1109.1,879.1 1109.9,878.4 1110,877.5 C1110.4,875.0 1109.4,872.5 1108.8,870 C1108.5,868.7 1107.6,867.5 1107.5,866.2 C1107.4,864.1 1108.4,862.1 1108.8,860 C1105.9,859.8 1102.9,859.7 1100,859.4 C1096.7,859.1 1093.3,858.5 1090,858.1 L1088.8,860 L1081.2,856.2 C1082.5,854.1 1084.2,852.3 1085,850 C1085.6,848.4 1085.0,846.6 1085.6,845 C1087.8,838.9 1092.1,833.8 1096.2,828.8 C1097.3,827.4 1098.7,826.3 1100,825 L1105,826.9 L1115.6,807.5Z" fill="#783984" stroke="#6a6a6a" stroke-width="2.5" stroke-linejoin="round"/>
<path d="M1193.2,798 L1250.8,828.5 L1262,819.2 C1269.1,828.0 1277.3,835.9 1283.2,845.5 C1288.5,854.1 1291.6,863.8 1295.8,873 C1279.5,885.9 1258.1,903.3 1247,911.8 C1239.2,917.8 1231.1,923.4 1223.2,929.2 C1217.8,920.5 1212.3,911.8 1207,903 C1201.9,894.4 1197.5,885.3 1192,876.8 C1185.8,867.3 1178.7,858.4 1172,849.2 C1175.3,840.5 1178.4,831.6 1182,823 C1185.5,814.6 1189.5,806.3 1193.2,798Z" fill="#783984" stroke="#6a6a6a" stroke-width="2.5" stroke-linejoin="round"/>
<path d="M751,1108.8 L792.2,1105 C793.5,1110.0 794.7,1115.0 796,1120 C796.8,1123.3 797.0,1126.9 798.5,1130 C800.3,1133.8 803.1,1137.1 806,1140 C810.4,1144.4 815.8,1147.7 821,1151.2 C832.6,1159.0 866.0,1178.7 888.5,1192.5 L834.8,1235 C831.9,1232.5 829.1,1229.7 826,1227.5 C821.3,1224.2 816.0,1221.8 811,1218.8 C806.8,1216.3 803.0,1213.0 798.5,1211.2 C793.0,1209.0 786.8,1208.8 781,1207.5 C776.0,1206.4 771.0,1205.0 766,1203.8 C764.3,1198.4 763.1,1192.8 761,1187.5 C758.9,1182.3 755.5,1177.7 753.5,1172.5 C751.4,1166.9 749.3,1161.0 749,1155 C748.7,1149.1 751.1,1143.4 751.5,1137.5 C752.1,1128.0 751.2,1118.4 751,1108.8Z" fill="#783984" stroke="#6a6a6a" stroke-width="2.5" stroke-linejoin="round"/>
<path d="M886,1275 L933.5,1295 L898.5,1422.5 L809.8,1385 C811.5,1380.0 812.0,1374.5 814.8,1370 C816.0,1368.0 818.4,1366.9 819.8,1365 C822.5,1361.2 824.1,1356.8 826,1352.5 C829.3,1345.1 831.9,1337.5 834.8,1330 C839.8,1327.9 845.6,1327.3 849.8,1323.8 C853.3,1320.9 855.3,1316.6 857.2,1312.5 C859.2,1308.2 858.8,1303.0 861,1298.8 C862.8,1295.4 865.1,1291.9 868.5,1290 C870.7,1288.8 873.7,1289.9 876,1288.8 C879.0,1287.4 881.7,1285.2 883.5,1282.5 C885.0,1280.3 885.2,1277.5 886,1275Z" fill="#783984" stroke="#6a6a6a" stroke-width="2.5" stroke-linejoin="round"/>
<path d="M1031.9,1457.5 C1052.9,1455.4 1081.1,1452.4 1095,1451.2 C1108.3,1450.0 1121.8,1450.2 1135,1448.1 C1139.2,1447.4 1143.4,1446.3 1147.5,1445 C1151.8,1443.6 1156.1,1442.1 1160,1440 C1163.2,1438.3 1165.8,1435.8 1168.8,1433.8 C1170.8,1432.5 1172.9,1431.3 1175,1430 C1179.2,1432.9 1183.3,1435.9 1187.5,1438.8 C1191.6,1441.6 1196.0,1444.0 1200,1446.9 C1206.0,1451.2 1211.7,1456.0 1217.5,1460.6 C1215.0,1465.4 1212.2,1470.1 1210,1475 C1207.1,1481.5 1205.2,1488.4 1202.5,1495 C1200.1,1500.9 1197.5,1506.7 1195,1512.5 C1192.5,1518.3 1190.0,1524.2 1187.5,1530 C1186.0,1533.3 1184.6,1536.7 1183.1,1540 C1182.1,1542.1 1181.4,1544.4 1180,1546.2 C1178.0,1548.8 1175.2,1550.7 1172.5,1552.5 C1168.6,1555.2 1164.1,1557.0 1160,1559.4 C1153.0,1563.4 1146.3,1567.7 1139.4,1571.9 C1131.7,1567.1 1124.0,1562.2 1116.2,1557.5 C1104.2,1550.2 1060.8,1524.6 1033.1,1508.1 C1033.9,1505.4 1035.1,1502.8 1035.6,1500 C1036.2,1496.7 1036.3,1493.3 1036.2,1490 C1036.1,1485.0 1035.1,1480.0 1034.4,1475 C1033.9,1471.3 1033.0,1467.6 1032.5,1463.8 C1032.2,1461.7 1032.1,1459.6 1031.9,1457.5Z" fill="#783984" stroke="#6a6a6a" stroke-width="2.5" stroke-linejoin="round"/>
<path d="M1230.8,1262.5 C1235.4,1263.7 1240.3,1264.0 1244.5,1266.2 C1247.4,1267.7 1249.5,1270.4 1252,1272.5 C1262.7,1281.6 1294.2,1308.0 1304.5,1317.5 C1307.1,1319.9 1310.1,1322.0 1312,1325 C1314.5,1328.7 1315.8,1333.2 1317,1337.5 C1318.8,1344.4 1319.0,1351.7 1320,1358.8 C1315.7,1360.5 1311.1,1361.6 1307,1363.8 C1302.5,1366.2 1298.4,1369.3 1294.5,1372.5 C1286.9,1378.6 1280.3,1385.8 1273.2,1392.5 L1212,1322.5 C1215.3,1311.7 1218.6,1300.8 1222,1290 C1224.9,1280.8 1227.9,1271.7 1230.8,1262.5Z" fill="#783984" stroke="#6a6a6a" stroke-width="2.5" stroke-linejoin="round"/>
<path d="M1489.5,1226.2 C1494.5,1229.1 1499.3,1232.4 1504.5,1235 C1511.0,1238.3 1518.4,1239.8 1524.5,1243.8 C1531.1,1248.2 1536.1,1254.7 1542,1260 C1548.6,1265.9 1555.4,1271.6 1562,1277.5 C1570.8,1285.3 1579.5,1293.3 1588.2,1301.2 C1584.5,1307.5 1580.9,1313.8 1577,1320 C1572.2,1327.6 1565.6,1334.3 1562,1342.5 C1560.6,1345.6 1561.1,1349.4 1559.5,1352.5 C1553.1,1365.0 1532.0,1385.0 1518.2,1401.2 C1515.3,1395.0 1511.3,1389.1 1509.5,1382.5 C1508.4,1378.5 1507.9,1374.2 1508.2,1370 C1508.8,1360.6 1513.8,1351.9 1514.5,1342.5 C1514.8,1337.5 1514.9,1332.2 1513.2,1327.5 C1511.5,1322.7 1508.2,1318.5 1504.5,1315 C1498.8,1309.6 1489.5,1308.6 1484.5,1302.5 C1482.3,1299.7 1481.3,1296.0 1480.8,1292.5 C1479.7,1285.1 1483.2,1277.4 1482,1270 C1481.3,1265.6 1479.1,1261.5 1477,1257.5 C1474.9,1253.5 1472.0,1250.0 1469.5,1246.2 L1489.5,1226.2Z" fill="#783984" stroke="#6a6a6a" stroke-width="2.5" stroke-linejoin="round"/>
<path d="M1223.2,933 L1275.8,988 L1180.8,1025 L1148.2,985.5 L1223.2,933Z" fill="#ecddf4" stroke="#6a6a6a" stroke-width="2.5" stroke-linejoin="round"/>
<path d="M893.5,1092 C915.6,1089.8 946.1,1088.6 959.8,1085.5 C960.3,1085.4 960.7,1085.2 961.2,1085 C969.1,1095.0 977.1,1105.0 985,1115 C989.6,1120.8 993.8,1127.0 998.8,1132.5 C1005.7,1140.1 1013.7,1146.7 1021.2,1153.8 L1032.5,1145.6 C1035.0,1155.0 1036.6,1164.7 1040,1173.8 C1041.3,1177.3 1043.5,1180.4 1045,1183.8 C1047.8,1189.9 1049.9,1196.3 1052.5,1202.5 C1053.9,1205.9 1056.5,1208.9 1056.9,1212.5 C1057.7,1220.1 1054.1,1227.5 1052.5,1235 C1051.4,1240.4 1050.0,1245.7 1048.8,1251 L1051,1242.5 L1042.2,1266.2 C1039.3,1264.5 1036.3,1263.0 1033.5,1261.2 C1029.2,1258.5 1025.3,1255.2 1021,1252.5 C1016.1,1249.4 1011.3,1246.2 1006,1243.8 C1001.2,1241.6 996.1,1240.2 991,1238.8 C983.6,1236.7 975.7,1236.4 968.5,1233.8 C963.2,1231.9 958.7,1228.3 953.5,1226.2 C943.0,1222.0 931.4,1220.7 921,1216.2 C914.0,1213.2 907.1,1209.6 901,1205 C896.3,1201.4 892.7,1196.7 888.5,1192.5 L932.2,1158.8 C930.1,1157.1 928.2,1155.2 926,1153.8 C923.6,1152.3 921.3,1150.4 918.5,1150 C912.6,1149.2 906.8,1152.5 901,1153.8 L891,1147.5 C890.2,1144.2 888.6,1140.9 888.5,1137.5 C888.3,1130.7 891.4,1124.2 892.2,1117.5 C893.2,1109.0 893.1,1100.5 893.5,1092Z" fill="#ecddf4" stroke="#6a6a6a" stroke-width="2.5" stroke-linejoin="round"/>
<path d="M1042.2,1266.2 C1051.8,1272.5 1061.3,1278.9 1071,1285 C1075.1,1287.6 1079.2,1290.3 1083.5,1292.5 C1086.2,1293.9 1089.5,1294.4 1092,1296.2 C1095.1,1298.5 1096.6,1302.5 1099.5,1305 C1103.2,1308.1 1108.6,1309.0 1112,1312.5 C1115.0,1315.6 1116.1,1320.0 1118.2,1323.8 L1114.5,1337.5 C1117.8,1343.3 1121.1,1349.2 1124.5,1355 C1127.0,1359.2 1128.8,1363.8 1132,1367.5 C1136.2,1372.4 1143.3,1374.6 1147,1380 C1149.2,1383.3 1150.6,1387.3 1150.8,1391.2 C1151.0,1395.1 1149.1,1398.7 1148.2,1402.5 L1137,1403.8 C1122.0,1392.9 1103.3,1379.5 1092,1371.2 C1084.1,1365.4 1075.4,1360.7 1068.5,1353.8 C1064.5,1349.8 1062.8,1343.7 1058.5,1340 C1054.2,1336.4 1047.7,1336.2 1043.5,1332.5 C1041.2,1330.5 1040.4,1327.3 1038.5,1325 C1036.3,1322.3 1033.5,1320.0 1031,1317.5 C1031.4,1306.3 1029.1,1294.6 1032.2,1283.8 C1034.0,1277.3 1038.9,1272.1 1042.2,1266.2Z" fill="#ecddf4" stroke="#6a6a6a" stroke-width="2.5" stroke-linejoin="round"/>
<path d="M1444.5,1155 C1467.8,1162.9 1500.7,1176.3 1514.5,1178.8 C1528.3,1181.3 1563.4,1177.9 1577,1181.2 C1582.8,1182.6 1587.8,1186.3 1593.2,1188.8 C1590.7,1193.4 1588.6,1198.1 1585.8,1202.5 C1583.5,1206.0 1580.7,1209.2 1578.2,1212.5 C1582.0,1215.4 1586.0,1218.0 1589.5,1221.2 C1594.1,1225.4 1598.1,1230.2 1602,1235 C1606.5,1240.6 1610.3,1246.7 1614.5,1252.5 L1609.5,1263.8 L1620.8,1270 L1589.5,1300 C1580.3,1292.5 1570.8,1285.4 1562,1277.5 C1551.6,1268.1 1543.3,1255.8 1532,1247.5 C1520.7,1239.2 1501.8,1231.8 1489.5,1225 C1486.6,1223.4 1483.6,1221.8 1480.8,1220 C1476.6,1217.2 1472.4,1214.5 1468.8,1211 C1467.3,1209.6 1466.3,1207.8 1465,1206.2 C1463.0,1203.7 1460.0,1201.8 1458.8,1198.8 C1457.7,1196.1 1458.7,1192.9 1458.1,1190 C1457.4,1186.6 1456.2,1183.3 1455,1180 C1453.9,1177.0 1452.6,1174.1 1451.2,1171.2 C1449.7,1168.2 1447.4,1165.6 1446.2,1162.5 C1445.3,1160.1 1445.1,1157.5 1444.5,1155Z" fill="#ecddf4" stroke="#6a6a6a" stroke-width="2.5" stroke-linejoin="round"/>
<g fill="none" stroke="#000" stroke-width="4.0" stroke-linejoin="round">
<path d="M916,934.2 C922.7,935.1 929.3,936.1 936,936.8 C944.3,937.6 952.7,938.8 961,938.5 C967.7,938.2 974.3,936.6 981,935.5 C986.0,934.7 990.9,933.4 996,933 C1001.8,932.5 1007.7,932.4 1013.5,933 C1019.8,933.6 1026.0,935.5 1032.2,936.8 C1028.5,948.0 1024.7,959.3 1021,970.5 C1016.8,983.0 1012.2,995.4 1008.5,1008 C1006.1,1016.2 1005.0,1024.9 1002.2,1033 C1001.1,1036.3 1000.0,1039.6 998.1,1042.5 C993.0,1050.2 985.2,1055.8 978.8,1062.5 C975.4,1060.0 971.8,1057.6 968.5,1055 C957.5,1046.4 934.1,1032.7 927.2,1020.5 C920.9,1009.5 922.7,995.6 921,983 C919.1,969.1 917.7,950.5 916,934.2Z"/>
<path d="M998.1,1042.5 C999.6,1038.3 1000.7,1034.1 1002.5,1030 C1002.9,1029.1 1003.4,1028.3 1003.8,1027.5 L1011.2,1036.9 C1014.1,1035.4 1017.2,1034.2 1020,1032.5 C1023.5,1030.3 1026.9,1027.7 1030,1025 C1035.3,1020.4 1039.4,1014.4 1045,1010 C1048.8,1007.0 1053.1,1004.5 1057.5,1002.5 C1066.3,998.7 1075.8,997.1 1085,994.4 C1084.4,999.2 1084.0,1004.0 1083.1,1008.8 C1082.3,1013.0 1079.5,1017.0 1080,1021.2 C1080.2,1023.5 1081.9,1025.5 1083.1,1027.5 C1083.7,1028.4 1084.3,1029.2 1085,1030 C1088.9,1034.4 1093.3,1038.3 1097.5,1042.5 L1045,1092.5 L998.1,1042.5Z"/>
<path d="M1045,1092.5 L1097.5,1042.5 L1130,1080 C1129.2,1081.3 1128.4,1082.6 1127.5,1083.8 C1121.5,1091.4 1114.2,1097.9 1107.5,1105 L1102.5,1098.8 L1092.5,1107.5 L1093.8,1111.2 L1077.5,1123.1 C1075.0,1122.5 1072.3,1122.3 1070,1121.2 C1068.1,1120.3 1066.5,1118.9 1065,1117.5 C1057.3,1110.1 1051.7,1100.8 1045,1092.5Z"/>
<path d="M1033.1,1458.1 L1095,1452.2 C1095.2,1454.4 1096.0,1456.6 1095.6,1458.8 C1095.2,1461.3 1093.5,1463.3 1092.5,1465.6 L1125.6,1481.2 C1125.4,1482.5 1125.3,1483.8 1125,1485 C1124.4,1487.1 1123.3,1489.1 1122.5,1491.2 C1123.3,1492.5 1124.0,1493.9 1125,1495 C1127.6,1497.9 1130.9,1500.0 1133.8,1502.5 C1130.0,1508.7 1127.1,1515.6 1122.5,1521.2 C1120.7,1523.4 1118.3,1525.0 1116.2,1526.9 C1117.1,1528.8 1118.0,1530.6 1118.8,1532.5 C1119.7,1534.6 1120.9,1536.6 1121.2,1538.8 C1121.5,1541.7 1120.8,1544.7 1120,1547.5 C1119.1,1550.8 1117.5,1553.8 1116.2,1556.9 L1033.1,1508.1 C1033.9,1505.4 1035.1,1502.8 1035.6,1500 C1036.2,1496.7 1036.3,1493.3 1036.2,1490 C1036.1,1485.0 1034.9,1480.0 1034.4,1475 C1033.8,1469.4 1033.5,1463.7 1033.1,1458.1Z"/>
</g>
<g fill="none" stroke="#6a6a6a" stroke-linejoin="round" stroke-linecap="round">
<path d="M622.5,500 C631.7,506.7 641.3,512.8 650,520 C660.8,528.9 714.1,581.2 725,590 C735.9,598.8 778.0,627.9 790,635 C802.0,642.1 843.3,661.7 870,675" stroke-width="2.5"/>
<path d="M780,430 C802.5,471.7 842.4,541.9 847.5,555 C850.0,561.4 848.8,569.2 852.5,575 C856.0,580.5 863.7,582.2 867.5,587.5 C870.1,591.1 870.8,595.8 872.5,600 C877.8,612.9 896.1,651.6 900,665 C902.8,674.7 903.3,685.0 905,695 L904.8,686.8" stroke-width="2.5"/>
<path d="M839,402.5 C845.2,426.7 855.1,461.2 857.5,475 C859.9,488.8 861.5,511.0 862.5,525 C863.5,539.0 863.9,571.0 865,585 C866.1,599.0 872.0,656.3 875,670 C875.5,672.3 876.5,674.5 877.2,676.8" stroke-width="2.5"/>
<path d="M1065,300 C1065.7,305.3 1067.7,310.7 1067,316 C1065.9,324.5 1058.4,331.4 1057.5,340 C1056.4,350.1 1061.8,359.9 1062.5,370 C1063.4,384.0 1058.1,471.0 1059,485 C1059.9,499.0 1068.5,541.1 1070,555 C1071.5,568.9 1073.4,636.1 1075,650 C1076.6,663.9 1084.7,696.1 1086,710 C1086.8,718.3 1086.0,726.7 1086,735" stroke-width="1.6"/>
<path d="M1086,735 C1084.8,743.3 1083.9,751.7 1082.5,760 C1081.3,767.1 1079.3,774.1 1078.1,781.2 C1076.8,788.7 1076.4,796.3 1075,803.8 C1073.0,814.3 1070.6,824.8 1067.5,835 C1064.0,846.5 1059.0,857.5 1055,868.8 C1050.3,882.0 1042.2,906.8 1037.5,920 C1035.5,925.7 1033.3,931.3 1031.2,936.9" stroke-width="2.5"/>
<path d="M416,593.5 C424.0,597.3 432.3,600.6 440,605 C452.2,611.9 488.4,637.1 500,645 C511.6,652.9 538.4,672.1 550,680 C561.6,687.9 599.0,711.3 610,720 C621.0,728.7 636.7,745.0 650,757.5" stroke-width="1.6"/>
<path d="M374,750 C424.3,781.3 512.7,837.2 525,844 C531.8,847.8 538.8,851.3 546,854.2 C559.0,859.4 588.3,866.0 601,871.8 C613.7,877.6 649.7,899.8 661,908 C672.3,916.2 686.2,928.0 696,938 C700.6,942.6 704.0,948.3 708.5,953 C713.6,958.3 719.4,963.0 724.8,968 C734.3,976.8 742.7,987.0 753.5,994.2 C765.1,1002.0 780.8,1007.0 793.5,1013 C806.2,1019.0 827.6,1031.6 841,1035.5 C854.4,1039.4 887.8,1038.4 901,1043 C908.3,1045.5 914.3,1051.0 921,1055" stroke-width="1.6"/>
<path d="M1539.5,107.5 C1533.0,127.5 1525.0,154.4 1520,167.5 C1515.0,180.6 1503.5,201.8 1498.8,215 C1494.1,228.2 1491.1,256.8 1483.8,268.8 C1476.5,280.8 1454.6,290.4 1447.5,302.5 C1444.9,306.9 1444.6,312.4 1443.8,317.5 C1441.6,331.3 1441.2,351.0 1440,365 C1438.8,379.0 1431.1,426.2 1433.5,440 C1435.4,450.9 1442.8,460.0 1447.5,470 C1438.2,491.7 1426.0,522.6 1419.5,535 C1414.1,545.4 1410.3,557.8 1401,565 C1396.4,568.5 1389.7,567.6 1384.5,570 C1371.8,575.9 1307.1,617.8 1297,627.5 C1286.9,637.2 1274.6,658.2 1267,670 C1259.4,681.8 1238.8,717.8 1232,730 C1225.2,742.2 1201.1,787.7 1194.5,800 C1190.4,807.7 1185.6,815.1 1182,823 C1178.1,831.5 1174.8,840.3 1172,849.2 C1169.0,858.6 1167.8,868.6 1164.5,878 C1161.5,886.6 1157.1,894.7 1153.2,903 C1149.6,910.6 1145.6,917.9 1142,925.5 C1138.5,932.9 1136.6,941.2 1132,948 C1129.0,952.4 1124.5,955.5 1120.8,959.2" stroke-width="1.6"/>
<path d="M869.2,675 C881.1,678.7 893.0,682.2 904.8,686 C918.1,690.3 933.2,694.4 946,700 C958.8,705.6 971.4,713.0 983.5,720 C995.6,727.0 1055.8,765.0 1092,787.5" stroke-width="3.4"/>
<path d="M977.2,933 C980.1,945.5 982.9,958.0 986,970.5 C989.1,983.0 993.1,995.4 996,1008 C997.9,1016.3 999.3,1024.7 1001,1033" stroke-width="1.6"/>
<path d="M831.8,723 L806,711.8 L783,765.5 L800.5,773 L792.2,792.5 L778.5,786 L766,813.5 L758.5,810 L731,849.2" stroke-width="2.5"/>
<path d="M759.8,1055 C760.2,1051.0 759.8,1046.8 761,1043 C762.8,1037.5 766.9,1033.0 769.8,1028 C775.2,1030.5 780.4,1033.6 786,1035.5 C793.3,1038.0 801.3,1037.7 808.5,1040.5 C817.5,1044.0 825.2,1050.2 833.5,1055" stroke-width="1.6"/>
<path d="M1032.2,936.8 C1028.5,948.0 1024.7,959.3 1021,970.5 C1016.8,983.0 1012.2,995.4 1008.5,1008 C1006.1,1016.2 1004.6,1024.7 1002.2,1033 C1001.2,1036.4 1000.1,1039.7 999,1043" stroke-width="3.4"/>
<path d="M1032.2,936.8 C1049.8,939.9 1071.2,943.6 1085,946.2 C1091.3,947.4 1097.9,947.7 1103.8,950 C1109.7,952.3 1114.6,956.7 1120,960" stroke-width="2.5"/>
<path d="M1120,960 C1110.0,967.9 1098.7,974.4 1090,983.8 C1089.0,984.9 1088.1,986.1 1087.5,987.5 C1086.4,989.9 1086.1,992.5 1085.6,995 C1084.6,999.6 1084.1,1004.2 1083.1,1008.8 C1082.2,1013.0 1079.5,1017.0 1080,1021.2 C1080.2,1023.5 1081.9,1025.5 1083.1,1027.5 C1083.7,1028.4 1084.4,1029.2 1085,1030" stroke-width="1.6"/>
<path d="M1141.2,980 C1130.8,988.7 1120.5,997.6 1110,1006.2 C1101.7,1013.0 1093.1,1019.2 1085,1026.2 C1074.4,1035.4 1040.5,1068.2 1030,1077.5 C1019.5,1086.8 1003.3,1099.8 990,1111" stroke-width="1.6"/>
<path d="M1166.2,1032.5 L1176.9,1045 L1131.2,1081.2" stroke-width="1.6"/>
<path d="M1092,789.2 C1100.3,795.1 1108.6,801.1 1117,806.8 C1125.2,812.4 1134.1,817.0 1142,823 C1152.6,831.0 1163.0,839.4 1172,849.2 C1179.7,857.6 1185.8,867.3 1192,876.8 C1197.5,885.3 1201.9,894.3 1207,903 C1212.3,912.2 1217.3,921.7 1223.2,930.5 C1229.0,939.2 1235.1,947.7 1242,955.5 C1251.3,966.0 1265.7,978.3 1275.8,988 C1285.9,997.7 1302.2,1013.0 1312,1023 C1321.8,1033.0 1334.0,1043.5 1342,1055 C1346.3,1061.1 1348.3,1068.6 1352,1075 C1356.5,1082.8 1360.5,1091.3 1367,1097.5 C1374.0,1104.2 1385.4,1105.4 1392,1112.5 C1396.4,1117.3 1399.5,1123.6 1400.8,1130 C1402.5,1138.2 1400.1,1146.7 1399.5,1155 C1398.8,1165.0 1396.0,1175.0 1397,1185 C1397.9,1193.7 1400.8,1202.1 1404.5,1210 C1410.4,1222.7 1434.3,1255.8 1442,1267.5 C1449.7,1279.2 1460.5,1292.6 1467,1305 C1471.2,1312.9 1474.2,1321.5 1477,1330 C1480.2,1339.8 1481.5,1350.1 1484.5,1360 C1488.6,1373.4 1502.5,1412.2 1508.2,1425 C1513.9,1437.8 1526.6,1459.7 1535.8,1477" stroke-width="3.4"/>
<path d="M1535.8,1477 C1539.5,1485.3 1544.0,1493.4 1547,1502 C1549.8,1510.1 1552.2,1518.5 1553.2,1527 C1554.9,1540.9 1553.0,1619.2 1552.8,1633.2 C1552.6,1643.6 1551.2,1654.1 1552,1664.5 C1552.7,1673.8 1554.4,1683.0 1557,1692 C1559.5,1700.6 1563.4,1708.8 1567,1717 C1572.7,1729.8 1634.0,1854.9 1640,1867.5 C1646.0,1880.1 1665.2,1925.5 1672.5,1937.5 C1677.4,1945.6 1684.9,1952.0 1690,1960 C1694.0,1966.3 1697.4,1973.0 1700,1980 C1703.6,1989.7 1704.3,2000.2 1707.5,2010 C1710.3,2018.5 1713.7,2026.9 1717.5,2035 C1721.9,2044.4 1726.2,2054.2 1732.5,2062.5 C1740.9,2073.7 1773.4,2102.5 1793.8,2122.5" stroke-width="2.5"/>
<path d="M1583.2,633 C1487.4,713.0 1306.7,864.2 1295.8,873 C1284.9,881.8 1258.0,903.1 1247,911.8 C1239.1,918.1 1231.2,924.4 1223.2,930.5 C1212.0,939.0 1173.2,967.2 1148.2,985.5" stroke-width="2.5"/>
<path d="M1175,965 C1165.8,968.3 1156.0,970.2 1147.5,975 C1145.2,976.3 1143.3,978.3 1141.2,980" stroke-width="1.6"/>
<path d="M1223.2,930.5 C1231.1,925.9 1238.2,919.4 1247,916.8 C1253.4,914.9 1260.4,914.8 1267,915.5 C1275.6,916.4 1283.4,921.2 1292,922.5 C1305.9,924.5 1328.0,924.6 1342,923.5 C1348.7,923.0 1355.5,922.0 1362,920 C1369.0,917.9 1374.7,911.4 1382,911 C1385.5,910.8 1388.7,913.1 1392,914.2 C1393.7,918.8 1395.7,923.3 1397,928 C1399.8,937.8 1399.2,948.6 1403.2,958 C1405.0,962.2 1408.3,965.5 1410.8,969.2 C1415.4,969.2 1420.0,969.7 1424.5,969.2 C1429.4,968.7 1434.2,967.2 1439,966.2" stroke-width="2.5"/>
<path d="M1439,966.2 L1429.5,970.5 C1428.7,973.0 1428.0,975.6 1427,978 C1425.9,980.6 1423.5,982.7 1423.2,985.5 C1422.8,988.9 1426.1,992.1 1425.8,995.5 C1425.7,997.1 1423.9,998.4 1423.8,1000 C1423.7,1002.1 1425.6,1004.0 1425.6,1006.2 C1425.6,1008.4 1423.8,1010.3 1423.8,1012.5 C1423.8,1014.7 1425.5,1016.6 1425.6,1018.8 C1425.8,1022.6 1423.9,1026.2 1423.8,1030 C1423.7,1033.8 1424.0,1037.6 1425,1041.2 C1425.8,1044.3 1427.5,1047.1 1428.8,1050 L1423.8,1061.2 L1428.8,1070 L1435,1068.8 L1441.2,1081.2 L1433.8,1086.2 L1435,1092.5 L1440,1095 L1441.2,1102.5 L1436.9,1107.5 L1438.8,1116.2 L1435,1121.2 C1435.6,1125.0 1436.3,1128.7 1436.9,1132.5 C1437.6,1137.5 1437.2,1142.7 1438.8,1147.5 C1439.6,1149.8 1440.9,1152.0 1442.5,1153.8 C1443.2,1154.6 1444.2,1155.0 1445,1155.6 C1445.4,1157.9 1445.4,1160.3 1446.2,1162.5 C1447.3,1165.6 1449.7,1168.2 1451.2,1171.2 C1452.6,1174.1 1453.9,1177.0 1455,1180 C1456.2,1183.3 1457.4,1186.6 1458.1,1190 C1458.7,1192.9 1457.7,1196.1 1458.8,1198.8 C1460.0,1201.8 1463.0,1203.7 1465,1206.2 C1466.3,1207.8 1467.3,1209.6 1468.8,1211 C1472.4,1214.5 1476.6,1217.2 1480.8,1220 C1483.6,1221.8 1486.6,1223.3 1489.5,1225" stroke-width="1.6"/>
<path d="M1312,1055 C1322.0,1053.1 1331.9,1050.2 1342,1049.2 C1355.9,1047.9 1378.1,1051.1 1392,1049.2 C1405.9,1047.3 1428.6,1039.5 1442,1035.5 C1455.4,1031.5 1478.3,1022.1 1492,1019.2 C1504.3,1016.6 1516.9,1015.3 1529.5,1015.5 C1542.1,1015.7 1554.6,1018.2 1567,1020.5 C1580.8,1023.1 1624.8,1033.5 1638,1038 C1651.2,1042.5 1728.9,1079.0 1742,1084 C1755.1,1089.0 1828.6,1112.3 1842,1116.5 C1855.4,1120.7 1928.5,1142.7 1942,1146.5 C1955.5,1150.3 2012.0,1164.8 2047,1174" stroke-width="2.5"/>
<path d="M1180.8,1025 L1164.5,1033" stroke-width="1.6"/>
<path d="M546,1123.8 C574.3,1124.5 617.1,1127.7 631,1125.8 C638.8,1124.7 645.8,1120.4 653.5,1118.8 C663.3,1116.7 673.5,1116.6 683.5,1115.5 C697.4,1114.0 739.6,1109.3 753.5,1108 C766.4,1106.8 779.3,1106.3 792.2,1105 C806.1,1103.6 879.6,1093.6 893.5,1092 C907.4,1090.4 937.7,1087.7 959.8,1085.5" stroke-width="2.5"/>
<path d="M274,1131.5 C282.7,1134.8 291.0,1139.2 300,1141.5 C313.0,1144.8 326.6,1147.3 340,1146.5 C346.9,1146.1 353.4,1143.3 360,1141.5 C370.0,1138.8 379.7,1134.3 390,1133 C403.9,1131.3 456.0,1136.3 470,1135.5 C484.0,1134.7 520.7,1127.8 546,1124" stroke-width="2.5"/>
<path d="M546,1123.8 C546.4,1134.2 545.2,1144.8 547.2,1155 C548.4,1161.1 550.4,1167.1 553.5,1172.5 C560.6,1184.6 624.0,1250.4 631,1262.5 C634.1,1267.9 636.5,1273.9 637.2,1280 C638.4,1290.8 633.3,1301.6 633.5,1312.5 C633.7,1326.5 636.6,1349.2 641,1362.5 C643.8,1371.0 649.3,1378.3 653.5,1386.2" stroke-width="2.5"/>
<path d="M653.5,1386.2 C642.7,1389.5 630.4,1389.8 621,1396.2 C614.4,1400.7 612.2,1410.0 606,1415 C598.8,1420.9 587.9,1421.2 581,1427.5 C570.7,1437.0 555.9,1463.9 551,1477 C550.3,1478.9 550.3,1481.0 550,1483" stroke-width="2.5"/>
<path d="M753.5,1302.5 C756.0,1313.3 757.5,1324.4 761,1335 C763.0,1341.0 765.2,1347.1 768.5,1352.5 C771.2,1357.1 775.2,1360.8 778.5,1365 C781.8,1369.2 784.1,1374.4 788.5,1377.5 C794.6,1381.9 802.8,1382.3 809.8,1385 C822.9,1390.1 885.6,1417.1 898.5,1422.5 C911.4,1427.9 957.7,1448.1 971,1452.5 C979.2,1455.2 987.5,1457.9 996,1458.8 C1007.6,1460.0 1019.4,1458.3 1031,1457.5 C1045.0,1456.5 1071.7,1453.3 1092,1451.2" stroke-width="2.5"/>
<path d="M753.5,1302.5 C761.0,1296.3 768.7,1290.3 776,1283.8 C782.9,1277.7 789.4,1271.4 796,1265 C801.1,1260.1 805.5,1254.4 811,1250 C818.3,1244.1 827.1,1240.4 834.8,1235 C846.2,1226.9 877.5,1201.1 888.5,1192.5 C899.5,1183.9 921.7,1168.0 932.2,1158.8 C937.1,1154.5 940.9,1149.0 946,1145 C953.7,1139.0 963.1,1135.6 971,1130 C976.3,1126.2 981.0,1121.7 986,1117.5 C989.4,1114.6 992.7,1111.7 996,1108.8" stroke-width="2.5"/>
<path d="M761,1055 C759.3,1060.0 758.0,1065.1 756,1070 C754.6,1073.4 752.7,1076.7 751,1080 C752.3,1084.2 754.0,1088.2 754.8,1092.5 C755.8,1097.6 755.6,1102.8 756,1108" stroke-width="2.5"/>
<path d="M826,1055 C831.0,1058.3 835.7,1062.3 841,1065 C847.3,1068.2 854.2,1070.5 861,1072.5 C868.4,1074.7 876.1,1075.6 883.5,1077.5 C886.4,1078.2 889.3,1079.2 892.2,1080 L893.5,1092" stroke-width="2.5"/>
<path d="M976.9,1142.5 L973.8,1155 L974.8,1155 C970.2,1171.7 965.4,1191.7 961,1205 C958.5,1212.6 954.7,1219.9 952.2,1227.5 C947.8,1240.8 937.1,1281.5 933.5,1295 C929.9,1308.5 923.5,1336.5 919.8,1350 C916.1,1363.5 901.9,1408.9 898.5,1422.5 C897.0,1428.3 896.5,1434.3 894.8,1440 C891.1,1452.6 885.6,1464.7 881,1477" stroke-width="2.5"/>
<path d="M834.8,1235 C835.6,1236.7 836.4,1238.3 837.2,1240 C838.4,1242.5 839.1,1245.4 841,1247.5 C850.5,1257.8 873.5,1268.6 886,1275 C898.5,1281.4 917.7,1288.3 933.5,1295" stroke-width="2.5"/>
<path d="M919.8,1350 C935.2,1357.1 953.6,1364.6 966,1371.2 C970.3,1373.5 974.6,1375.9 978.5,1378.8 C983.0,1382.1 987.3,1385.8 991,1390 C993.0,1392.3 994.1,1395.2 996,1397.5 C999.7,1402.1 1004.3,1405.8 1008.5,1410 L1026,1403.8" stroke-width="2.5"/>
<path d="M1031,1317.5 C1029.3,1327.5 1026.8,1337.4 1026,1347.5 C1024.8,1361.5 1025.6,1389.8 1026,1403.8 C1026.2,1410.9 1026.6,1417.9 1027.2,1425 C1028.1,1435.9 1029.7,1446.7 1031,1457.5 C1031.8,1464.0 1032.7,1470.5 1033.5,1477" stroke-width="2.5"/>
<path d="M932.2,1158.8 C933.5,1160.9 934.7,1162.9 936,1165 C938.5,1169.2 939.7,1174.5 943.5,1177.5 C949.0,1181.8 956.8,1181.7 963.5,1183.8" stroke-width="2.5"/>
<path d="M961.2,1205 L993.1,1179.4 L1026.9,1217.5 L1011.2,1245" stroke-width="2.5"/>
<path d="M1012.5,1198.8 L1037.5,1176.2" stroke-width="2.5"/>
<path d="M975,1152.5 L998.8,1133.1" stroke-width="2.5"/>
<path d="M976.9,1142.5 L1000,1126.2" stroke-width="1.6"/>
<path d="M1021.2,1153.8 L1040,1173.8" stroke-width="1.6"/>
<path d="M937.2,1441.2 C937.6,1444.1 937.2,1447.4 938.5,1450 C940.1,1453.2 943.0,1455.6 946,1457.5 C953.5,1462.4 962.7,1464.2 971,1467.5 L971,1477" stroke-width="2.5"/>
<path d="M961.2,1085 L1021.2,1153.8" stroke-width="2.5"/>
<path d="M997.5,1042.5 C1008.3,1054.2 1020.3,1067.4 1030,1077.5 C1034.9,1082.6 1040.3,1087.2 1045,1092.5 C1052.1,1100.5 1057.3,1110.1 1065,1117.5 C1066.5,1118.9 1068.2,1120.1 1070,1121.2 C1072.4,1122.7 1075.1,1123.5 1077.5,1125 C1083.6,1128.7 1088.9,1133.8 1095,1137.5 C1100.4,1140.8 1106.5,1143.0 1112,1146.2 C1124.2,1153.1 1158.3,1174.1 1169.5,1182.5 C1180.7,1190.9 1212.8,1220.8 1234.5,1240" stroke-width="2.5"/>
<path d="M978.8,1063.8 L1050,1145" stroke-width="1.6"/>
<path d="M1000,1095 L1040,1137.5" stroke-width="1.6"/>
<path d="M985,1115 C1000.0,1102.5 1019.4,1086.6 1030,1077.5 C1040.6,1068.4 1058.3,1052.5 1072.5,1040" stroke-width="1.6"/>
<path d="M998.8,1132.5 L1040,1095" stroke-width="1.6"/>
<path d="M920,1052.5 L970,1076.2" stroke-width="1.6"/>
<path d="M1032.5,1145.6 C1035.0,1155.0 1036.6,1164.7 1040,1173.8 C1041.3,1177.3 1043.5,1180.4 1045,1183.8 C1047.8,1189.9 1049.9,1196.3 1052.5,1202.5 C1053.9,1205.9 1056.5,1208.9 1056.9,1212.5 C1057.7,1220.1 1054.1,1227.5 1052.5,1235 C1051.4,1240.4 1050.0,1245.7 1048.8,1251" stroke-width="2.5"/>
<path d="M1050,1145 L1095,1138.1" stroke-width="2.5"/>
<path d="M1095,1137.5 C1099.2,1140.4 1102.6,1144.8 1107.5,1146.2 C1119.6,1149.6 1132.5,1144.6 1145,1143.8" stroke-width="2.5"/>
<path d="M1040,1163.8 L1053.8,1152.5" stroke-width="2.5"/>
<path d="M1132.5,1082.5 L1176.2,1046.2 L1170,1040" stroke-width="1.6"/>
<path d="M1035,1140 C1040.0,1135.8 1045.9,1132.5 1050,1127.5 C1053.3,1123.5 1055.0,1118.4 1057.5,1113.8" stroke-width="1.6"/>
<path d="M1321.2,1028.8 C1325.4,1032.5 1329.4,1036.5 1333.8,1040 C1337.4,1042.9 1340.8,1046.3 1345,1048.1 C1350.0,1050.3 1355.7,1050.8 1361.2,1051.2 C1369.5,1051.8 1377.9,1050.4 1386.2,1050" stroke-width="1.6"/>
<path d="M1350,1056.2 C1353.7,1055.4 1357.4,1054.2 1361.2,1053.8 C1366.6,1053.2 1372.1,1053.6 1377.5,1053.5" stroke-width="1.6"/>
<path d="M1345,1058.8 C1345.2,1062.5 1344.5,1066.4 1345.6,1070 C1347.4,1075.6 1351.3,1080.4 1355,1085 C1358.7,1089.6 1363.3,1093.3 1367.5,1097.5" stroke-width="1.6"/>
<path d="M1360,1075 C1360.8,1071.7 1361.0,1068.1 1362.5,1065 C1363.7,1062.6 1365.5,1060.5 1367.5,1058.8 C1370.4,1056.4 1374.2,1055.3 1377.5,1053.5" stroke-width="1.6"/>
<path d="M1332.5,1043.8 C1337.5,1049.2 1343.3,1053.9 1347.5,1060 C1351.7,1066.1 1354.2,1073.3 1357.5,1080" stroke-width="1.6"/>
<path d="M1112,1146.2 C1147.0,1142.5 1203.0,1135.7 1217,1135 C1222.0,1134.7 1227.0,1134.6 1232,1135 C1244.6,1136.0 1256.9,1139.6 1269.5,1141.2 C1282.8,1142.9 1296.1,1145.1 1309.5,1145 C1320.4,1144.9 1331.1,1141.2 1342,1141.2 C1356.0,1141.1 1385.6,1146.1 1399.5,1147.5 C1412.0,1148.8 1424.9,1147.7 1437,1151.2 C1439.7,1152.0 1441.9,1153.9 1444.5,1155 C1457.4,1160.4 1500.7,1176.3 1514.5,1178.8 C1528.3,1181.3 1563.4,1177.9 1577,1181.2 C1582.8,1182.6 1587.6,1186.7 1593.2,1188.8 C1606.3,1193.7 1624.5,1197.4 1638,1201.2 C1651.5,1205.0 1678.2,1214.3 1692,1216.5 C1705.8,1218.7 1828.0,1221.1 1842,1221.5 C1856.0,1221.9 1928.1,1225.5 1942,1224 C1955.9,1222.5 1978.1,1213.0 1992,1211.5 C2005.9,1210.0 2022.0,1212.5 2037,1213" stroke-width="2.5"/>
<path d="M1169.5,1182.5 C1155.3,1195.0 1134.0,1207.8 1127,1220 C1126.0,1221.8 1126.2,1224.1 1125.8,1226.2" stroke-width="2.5"/>
<path d="M1050,1145 C1060.8,1158.3 1073.0,1174.7 1082.5,1185 C1092.0,1195.3 1116.1,1216.2 1125.8,1226.2 C1135.5,1236.2 1202.7,1312.0 1212,1322.5 C1221.3,1333.0 1264.1,1381.9 1273.2,1392.5 C1282.3,1403.1 1335.2,1466.6 1344.5,1477 C1352.2,1485.6 1359.5,1494.5 1368.2,1502 C1378.8,1511.2 1540.5,1625.2 1552,1633.2 C1563.5,1641.2 1609.3,1672.4 1638,1692" stroke-width="2.5"/>
<path d="M1231.5,1134.5 C1231.3,1143.0 1230.1,1151.5 1230.8,1160 C1231.5,1168.5 1234.1,1176.7 1235.8,1185 C1237.5,1193.3 1240.3,1201.5 1240.8,1210 C1241.2,1215.8 1240.8,1221.8 1239.5,1227.5 C1238.5,1231.9 1235.7,1235.7 1234.5,1240 C1232.5,1247.3 1232.6,1255.1 1230.8,1262.5 C1228.5,1271.9 1224.9,1280.8 1222,1290 C1218.6,1300.8 1215.2,1311.6 1212,1322.5 C1208.1,1335.9 1202.9,1353.9 1199.5,1367.5 C1196.8,1378.3 1195.5,1389.4 1192,1400 C1190.0,1406.0 1187.8,1412.1 1184.5,1417.5 C1181.8,1422.1 1178.6,1426.6 1174.5,1430 C1167.9,1435.5 1160.1,1439.6 1152,1442.5 C1140.8,1446.5 1128.7,1447.2 1117,1448.8 C1108.7,1449.9 1100.3,1450.4 1092,1451.2" stroke-width="2.5"/>
<path d="M1132,1240 C1123.7,1245.0 1113.3,1247.6 1107,1255 C1101.2,1261.8 1101.2,1272.1 1097,1280 C1095.6,1282.7 1093.7,1285.0 1092,1287.5" stroke-width="2.5"/>
<path d="M1269.5,1141.2 C1269.1,1144.1 1269.0,1147.1 1268.2,1150 C1266.8,1155.2 1262.9,1159.7 1262,1165 C1260.9,1171.6 1260.6,1178.8 1263.2,1185 C1265.6,1190.7 1271.6,1194.2 1275.8,1198.8 C1275.4,1201.7 1275.7,1204.8 1274.5,1207.5 C1271.6,1214.3 1265.4,1219.2 1260.8,1225 C1266.2,1227.1 1272.1,1228.1 1277,1231.2 C1288.8,1238.7 1306.6,1260.6 1317,1270 C1326.7,1278.7 1338.0,1285.6 1347,1295 C1355.6,1304.1 1361.3,1315.6 1369.5,1325 C1376.4,1333.0 1385.6,1339.1 1392,1347.5 C1396.1,1352.8 1397.6,1360.0 1402,1365 C1410.3,1374.4 1422.7,1379.2 1432,1387.5 C1440.1,1394.7 1447.0,1403.3 1454.5,1411.2" stroke-width="2.5"/>
<path d="M1320,1358.8 C1339.0,1356.7 1363.6,1356.5 1377,1352.5 C1382.4,1350.9 1387.0,1347.5 1392,1345 C1393.7,1340.0 1395.9,1335.2 1397,1330 C1398.8,1321.8 1397.4,1313.1 1399.5,1305 C1401.1,1298.9 1402.9,1292.4 1407,1287.5 C1414.7,1278.3 1427.0,1274.1 1437,1267.5 C1447.8,1260.4 1459.5,1254.4 1469.5,1246.2 C1476.8,1240.3 1482.8,1232.9 1489.5,1226.2" stroke-width="2.5"/>
<path d="M1514.5,1178.8 C1515.2,1183.4 1517.1,1187.9 1516.5,1192.5 C1516.0,1196.1 1514.1,1199.5 1512,1202.5 C1506.0,1211.2 1497.0,1217.5 1489.5,1225" stroke-width="1.6"/>
<path d="M1243.2,1266.2 L1234.5,1295 C1240.3,1296.7 1246.6,1297.2 1252,1300 C1261.5,1304.9 1269.5,1312.5 1277,1320 C1280.8,1323.8 1283.7,1328.3 1287,1332.5 L1285.8,1341.2 C1274.5,1337.5 1263.9,1330.4 1252,1330 C1248.6,1329.9 1245.0,1330.9 1242,1332.5 C1237.6,1334.8 1234.5,1339.2 1230.8,1342.5" stroke-width="2.5"/>
<path d="M1234,1116.2 C1236.7,1115.8 1239.5,1116.1 1242,1115 C1247.9,1112.3 1251.8,1106.5 1257,1102.5 C1261.8,1098.8 1267.0,1095.5 1272,1092 L1264.5,1085 L1254.5,1087.5 L1245.8,1078.8 C1252.9,1078.8 1260.1,1080.3 1267,1078.8 C1280.7,1075.9 1298.7,1064.6 1314.5,1057.5" stroke-width="1.6"/>
<path d="M1273.2,1392.5 C1270.3,1394.2 1266.9,1395.2 1264.5,1397.5 C1261.0,1400.9 1259.0,1405.6 1257,1410 C1254.8,1414.8 1254.8,1420.5 1252,1425 C1249.5,1429.0 1245.3,1431.7 1242,1435 C1238.3,1438.7 1234.2,1442.2 1230.8,1446.2 C1225.7,1452.1 1221.4,1458.6 1217,1465 C1214.4,1468.9 1212.0,1473.0 1209.5,1477" stroke-width="2.5"/>
<path d="M1230.8,1446.2 L1242,1477" stroke-width="1.6"/>
<path d="M1137,1403.8 C1142.0,1407.5 1146.9,1411.4 1152,1415 C1159.4,1420.2 1167.0,1425.0 1174.5,1430" stroke-width="2.5"/>
<path d="M1132,1081.2 L1167,1055" stroke-width="1.6"/>
<path d="M1518.2,1401.2 L1502,1403.8" stroke-width="1.6"/>
<path d="M696,1477 L693.5,1482 C698.5,1485.7 703.1,1490.1 708.5,1493.2 C712.4,1495.4 716.8,1496.7 721,1498.2 C726.7,1500.2 732.9,1500.9 738.5,1503.2 C745.1,1505.9 751.0,1509.9 757.2,1513.2" stroke-width="2.5"/>
<path d="M693.5,1482 C687.7,1487.8 680.8,1492.8 676,1499.5 C671.6,1505.5 669.3,1512.8 666,1519.5 C663.0,1525.7 660.1,1532.0 657.2,1538.2" stroke-width="2.5"/>
<path d="M878.5,1487 C888.9,1492.4 899.5,1497.6 909.8,1503.2 C922.1,1509.9 978.9,1542.4 1013.5,1562" stroke-width="2.5"/>
<path d="M909.8,1503.2 L906,1508.2 L909.8,1513.2 L903.5,1525.8 L913.5,1529 L911.5,1535.8 L894.8,1530.8 L896.5,1526.5 L905,1529 L892.2,1564.5" stroke-width="1.6"/>
<path d="M968.5,1477 L963.5,1489.5 L968.5,1502 C967.7,1503.7 966.3,1505.2 966,1507 C964.7,1516.2 969.3,1525.3 971,1534.5 L977.2,1538.2" stroke-width="2.5"/>
<path d="M986,1477 C996.0,1482.0 1007.4,1484.8 1016,1492 C1019.2,1494.7 1020.4,1499.2 1023.5,1502 C1026.0,1504.2 1029.3,1505.3 1032.2,1507" stroke-width="2.5"/>
<path d="M1032.2,1477 C1033.1,1481.2 1034.7,1485.2 1034.8,1489.5 C1035.0,1495.4 1035.0,1501.8 1032.2,1507 C1029.3,1512.5 1021.9,1514.3 1018.5,1519.5 C1015.6,1523.9 1014.1,1529.3 1013.5,1534.5 C1012.4,1543.6 1014.7,1552.9 1016,1562 C1017.2,1571.1 1019.2,1580.0 1021,1589 C1022.5,1596.7 1023.8,1604.5 1026,1612 C1028.7,1621.4 1031.4,1630.9 1036,1639.5 C1041.3,1649.5 1049.4,1657.8 1056,1667 C1059.8,1672.4 1064.3,1677.3 1067.2,1683.2 C1071.6,1692.2 1073.2,1702.4 1076,1712 C1078.6,1721.1 1079.1,1731.1 1083.5,1739.5 C1085.5,1743.4 1089.2,1746.2 1092,1749.5" stroke-width="2.5"/>
<path d="M844.8,1590.8 C852.7,1593.3 861.1,1594.5 868.5,1598.2 C873.1,1600.5 876.6,1604.5 881,1607 C891.3,1613.0 903.3,1615.8 913.5,1622 C921.6,1626.9 927.9,1634.5 936,1639.5 C945.4,1645.4 955.0,1652.4 966,1654 C972.7,1655.0 979.3,1651.9 986,1650.8" stroke-width="1.6"/>
<path d="M986,1600.8 C985.6,1609.5 986.4,1618.4 984.8,1627 C983.8,1632.2 981.5,1637.0 979.8,1642 C981.9,1644.9 983.7,1648.0 986,1650.8 C991.8,1657.9 998.5,1664.1 1004.8,1670.8 C1003.1,1678.7 1001.3,1686.6 999.8,1694.5 C998.8,1699.9 998.1,1705.4 997.2,1710.8 L1003.5,1718.2" stroke-width="1.6"/>
<path d="M1067.2,1683.2 C1071.8,1681.1 1077.2,1680.3 1081,1677 C1086.2,1672.5 1088.3,1665.3 1092,1659.5" stroke-width="2.5"/>
<path d="M1242,1477 C1243.7,1480.3 1244.9,1483.9 1247,1487 C1252.6,1495.3 1261.6,1501.0 1267,1509.5 C1268.7,1512.2 1269.5,1515.3 1270.8,1518.2 C1266.2,1524.1 1262.5,1530.8 1257,1535.8 C1251.9,1540.5 1245.3,1543.3 1239.5,1547 C1240.3,1550.3 1242.1,1553.6 1242,1557 C1241.9,1559.6 1240.3,1562.0 1239.5,1564.5 L1243.2,1569.5 L1245.8,1560.8 L1272,1573.2" stroke-width="2.5"/>
<path d="M1238.2,1663.2 C1232.0,1675.7 1221.2,1686.9 1219.5,1700.8 C1219.0,1704.6 1220.2,1708.6 1222,1712 C1222.6,1713.0 1223.7,1713.7 1224.5,1714.5 L1222,1720.8 L1230.8,1729.5 L1229.5,1738.2 C1235.3,1742.0 1242.8,1743.9 1247,1749.5 C1249.1,1752.3 1249.0,1756.2 1250,1759.5 L1238.2,1769.5 C1231.1,1769.1 1223.7,1770.3 1217,1768.2 C1213.3,1767.0 1210.6,1763.5 1207,1762 C1201.9,1759.9 1196.2,1759.5 1190.8,1758.2" stroke-width="1.6"/>
<path d="M1168.2,1617 C1162.0,1622.0 1156.7,1628.4 1149.5,1632 C1144.9,1634.3 1139.6,1635.2 1134.5,1635.8 C1128.7,1636.5 1122.8,1635.8 1117,1635.8 C1112.8,1640.4 1109.1,1645.4 1104.5,1649.5 C1100.7,1652.8 1096.2,1655.3 1092,1658.2" stroke-width="2.5"/>
<path d="M1104.5,1649.5 L1114.5,1669.5 L1122,1663.2 C1123.7,1664.5 1125.9,1665.2 1127,1667 C1130.0,1671.7 1129.5,1677.8 1130.8,1683.2 L1138.2,1685.8 L1140.8,1675.8 C1147.0,1679.9 1154.5,1682.7 1159.5,1688.2 C1163.6,1692.8 1165.3,1699.1 1168.2,1704.5 C1174.8,1716.9 1182.8,1729.1 1188.2,1742 C1190.2,1746.8 1191.3,1752.0 1192.8,1757" stroke-width="1.6"/>
<path d="M1190.8,1758.2 C1188.7,1763.6 1187.0,1769.2 1184.5,1774.5 C1182.0,1779.7 1177.3,1783.9 1175.8,1789.5 C1174.7,1793.5 1175.8,1797.8 1175.8,1802 L1159.5,1808.2 C1156.6,1804.5 1152.3,1801.5 1150.8,1797 C1148.9,1791.5 1150.8,1785.3 1150.8,1779.5 L1142,1770.8 C1139.1,1772.0 1135.8,1772.6 1133.2,1774.5 C1130.6,1776.4 1129.1,1779.5 1127,1782 L1109.5,1783.2" stroke-width="1.6"/>
<path d="M1092,1749.5 C1094.9,1752.8 1098.5,1755.7 1100.8,1759.5 C1103.3,1763.7 1104.1,1768.6 1105.8,1773.2" stroke-width="2.5"/>
<path d="M1010,1458.8 L1031.9,1457.5" stroke-width="2.5"/>
<path d="M1028.8,1420 L1031.9,1457.5" stroke-width="2.5"/>
<path d="M1010,1490 C1012.5,1491.3 1015.4,1491.9 1017.5,1493.8 C1019.7,1495.8 1020.4,1499.1 1022.5,1501.2 C1025.3,1503.9 1029.2,1505.4 1032.5,1507.5" stroke-width="2.5"/>
<path d="M1217.5,1460.6 C1221.7,1456.0 1225.5,1451.2 1230,1446.9 C1235.5,1441.7 1242.8,1438.4 1247.5,1432.5 C1250.4,1428.9 1251.7,1424.2 1253.8,1420" stroke-width="2.5"/>
<path d="M871,941.8 C874.3,939.7 877.4,937.0 881,935.5 C884.9,933.8 889.2,932.8 893.5,932.5 C901.0,931.9 908.5,933.4 916,934.2 C922.7,934.9 929.3,936.1 936,936.8 C944.3,937.6 952.7,938.8 961,938.5 C967.7,938.2 974.3,936.6 981,935.5 C986.0,934.7 990.9,933.4 996,933 C1001.8,932.5 1007.7,932.4 1013.5,933 C1019.8,933.6 1026.0,935.5 1032.2,936.8" stroke-width="2.5"/>
<path d="M998.1,1042.5 L978.8,1062.5" stroke-width="2.5"/>
<path d="M854,959.2 C878.4,979.6 916.5,1011.5 927.2,1020.5 C937.9,1029.5 957.8,1046.0 968.5,1055 C971.9,1057.9 975.4,1060.9 978.8,1063.8" stroke-width="2.5"/>
<path d="M1031.9,1457.5 C1052.9,1455.4 1081.1,1452.4 1095,1451.2 C1108.3,1450.0 1121.8,1450.2 1135,1448.1 C1139.2,1447.4 1143.4,1446.3 1147.5,1445 C1151.8,1443.6 1156.1,1442.1 1160,1440 C1163.2,1438.3 1165.8,1435.8 1168.8,1433.8 C1170.8,1432.5 1172.9,1431.3 1175,1430" stroke-width="2.5"/>
<path d="M1031.9,1457.5 C1032.1,1459.6 1032.2,1461.7 1032.5,1463.8 C1033.0,1467.6 1033.9,1471.3 1034.4,1475 C1035.1,1480.0 1036.1,1485.0 1036.2,1490 C1036.3,1493.3 1036.2,1496.7 1035.6,1500 C1035.1,1502.8 1033.9,1505.4 1033.1,1508.1" stroke-width="2.5"/>
</g>
<g fill="none" stroke="#000" stroke-width="3.6" stroke-linejoin="round" stroke-linecap="butt">
<path d="M916,934.2 C917.7,950.5 919.1,969.1 921,983 C922.7,995.6 925.1,1008.0 927.2,1020.5"/>
<path d="M1003.8,1027.5 L1011.2,1036.9 C1014.1,1035.4 1017.2,1034.2 1020,1032.5 C1023.5,1030.3 1026.9,1027.7 1030,1025 C1035.3,1020.4 1039.4,1014.4 1045,1010 C1048.8,1007.0 1053.1,1004.5 1057.5,1002.5 C1066.3,998.7 1075.8,997.1 1085,994.4"/>
<path d="M1085,1030 C1089.2,1034.2 1093.5,1038.2 1097.5,1042.5 C1107.0,1052.7 1119.2,1067.5 1130,1080 C1129.2,1081.3 1128.4,1082.6 1127.5,1083.8 C1121.5,1091.4 1114.2,1097.9 1107.5,1105 L1102.5,1098.8 L1092.5,1107.5 L1093.8,1111.2 L1077.5,1123.1"/>
<path d="M1097.5,1042.5 L1045,1092.5" stroke-width="3.4"/>
<path d="M1033.1,1458.1 L1095,1452.2 C1095.2,1454.4 1096.0,1456.6 1095.6,1458.8 C1095.2,1461.3 1093.5,1463.3 1092.5,1465.6 L1125.6,1481.2 C1125.4,1482.5 1125.3,1483.8 1125,1485 C1124.4,1487.1 1123.3,1489.1 1122.5,1491.2 C1123.3,1492.5 1124.0,1493.9 1125,1495 C1127.6,1497.9 1130.9,1500.0 1133.8,1502.5 C1130.0,1508.7 1127.1,1515.6 1122.5,1521.2 C1120.7,1523.4 1118.3,1525.0 1116.2,1526.9 C1117.1,1528.8 1118.0,1530.6 1118.8,1532.5 C1119.7,1534.6 1120.9,1536.6 1121.2,1538.8 C1121.5,1541.7 1120.8,1544.7 1120,1547.5 C1119.1,1550.8 1117.5,1553.8 1116.2,1556.9 L1033.1,1508.1 C1033.9,1505.4 1035.1,1502.8 1035.6,1500 C1036.2,1496.7 1036.3,1493.3 1036.2,1490 C1036.1,1485.0 1034.9,1480.0 1034.4,1475 C1033.8,1469.4 1033.5,1463.7 1033.1,1458.1"/>
<path d="M1087.5,1043.8 L2366,922.8" stroke-width="3.4"/>
<path d="M1120,1531.2 L2366,1619.8" stroke-width="3.4"/>
</g>
</g>
<g id="title" class="din" fill="#000" font-size="121.8" text-anchor="end">
<text x="3208" y="221.6" textLength="741" lengthAdjust="spacingAndGlyphs">Mean Percent</text>
<text x="3213.5" y="368.4" textLength="1090" lengthAdjust="spacingAndGlyphs">Change in Fair Cash</text>
<text x="3210.5" y="514.5" textLength="973.5" lengthAdjust="spacingAndGlyphs">Value, 2019 - 2025</text>
</g>
<g id="box1">
<rect x="2366" y="610.2" width="857" height="623.3" fill="#fff" stroke="#000" stroke-width="3.85" stroke-linejoin="round"/>
<text class="din" x="2386" y="697.4" font-size="76.3" textLength="778" lengthAdjust="spacingAndGlyphs" style="stroke-width:1.5px">Census Tracts 11, 2, &amp; 3</text>
<g font-size="50.2" fill="#000">
<text x="2385.5" y="779.0">Forrest Hill, Meadowthorpe, Fayette</text>
<text x="2385.5" y="836.5">Park neighborhoods - these areas</text>
<text x="2385.5" y="894.0">skew younger, and have a high</text>
<text x="2385.5" y="951.5">density of low-income individuals.</text>
<text x="2385.5" y="1009.0">Trends showing increasing value</text>
<text x="2385.5" y="1066.5">may not be sustainable for the</text>
<text x="2385.5" y="1124.0">average resident of this area if</text>
<text x="2385.5" y="1181.5">continued.</text>
</g>
</g>
<g id="box2">
<rect x="2366" y="1309.2" width="861" height="622.3" fill="#fff" stroke="#000" stroke-width="3.85" stroke-linejoin="round"/>
<text class="din" x="2386" y="1397.4" font-size="76.3" textLength="648" lengthAdjust="spacingAndGlyphs" style="stroke-width:1.5px">Census Tract 34.04</text>
<g font-size="50.2" fill="#000">
<text x="2385.5" y="1490.0">Gainesway, Southeastern Hills</text>
<text x="2385.5" y="1547.5">neighborhoods - age-diverse area</text>
<text x="2385.5" y="1605.0">with a mixed composition of</text>
<text x="2385.5" y="1662.5">apartments and owner-occupied</text>
<text x="2385.5" y="1720.0">homes. High density of low-income</text>
<text x="2385.5" y="1777.5">individuals who are vulnerable to</text>
<text x="2385.5" y="1835.0">increasing costs.</text>
</g>
</g>
<g id="legend">
<g class="din" font-size="56.8" style="stroke-width:0.9px">
<text x="128.5" y="1778.5" textLength="640" lengthAdjust="spacingAndGlyphs">Percent Change in Value</text>
<text x="128.5" y="1849" textLength="610" lengthAdjust="spacingAndGlyphs">Between 2019 and 2025</text>
</g>
<rect x="130.5" y="1906.5" width="156" height="137" fill="#ecddf4" stroke="#6e6e6e" stroke-width="2.2" rx="1.5"/>
<rect x="130.5" y="2104" width="156" height="137" fill="#b18bbb" stroke="#6e6e6e" stroke-width="2.2" rx="1.5"/>
<rect x="130.5" y="2301" width="156" height="137" fill="#783984" stroke="#6e6e6e" stroke-width="2.2" rx="1.5"/>
<g font-size="66.3" fill="#000">
<text x="322" y="1992.3">15.8% - 24.5%</text>
<text x="322" y="2189.7">24.6% - 30.6%</text>
<text x="322" y="2387">30.7% - 39.9%</text>
</g>
</g>
<g id="footer">
<text x="1863" y="2473.6" font-size="100" fill="#666">Fayette County</text>
<line x1="2579.5" y1="2378" x2="2579.5" y2="2508.5" stroke="#9a9a9a" stroke-width="3.6" stroke-linecap="round"/>
<text x="2620" y="2432.2" font-size="45.8" fill="#808080">Source: Fayette County PVA</text>
<text x="2620" y="2485.6" font-size="45.8" fill="#808080">Designed by Finn Haight</text>
</g>
</svg>
</body></html>
